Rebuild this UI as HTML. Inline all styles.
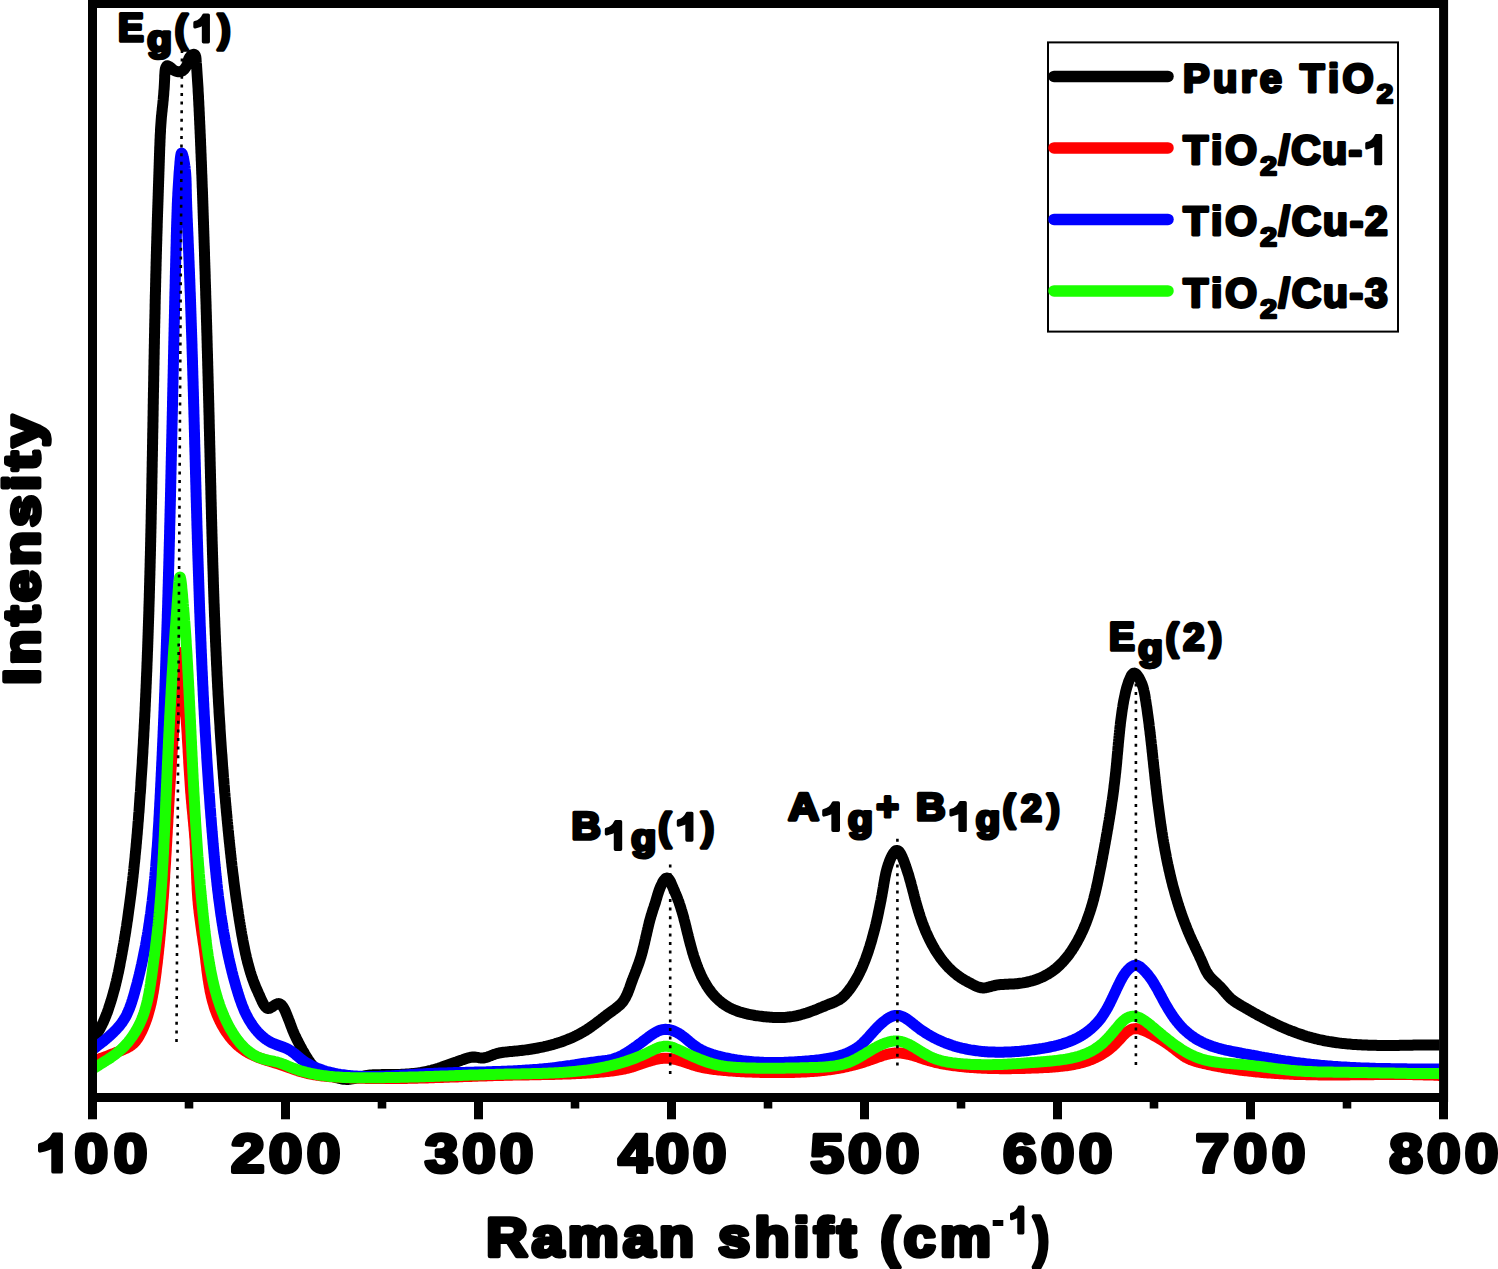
<!DOCTYPE html><html><head><meta charset="utf-8"><style>html,body{margin:0;padding:0;background:#fff;overflow:hidden}svg{display:block}text{font-family:"Liberation Sans",sans-serif;font-weight:bold;fill:#000;stroke:#000;stroke-linejoin:round;font-kerning:none;text-rendering:geometricPrecision}</style></head><body>
<svg width="1498" height="1269" viewBox="0 0 1498 1269">
<rect width="1498" height="1269" fill="#fff"/>
<defs><clipPath id="pa"><rect x="97" y="8" width="1342.5" height="1085.3"/></clipPath></defs>
<g clip-path="url(#pa)" fill="none" stroke-width="11" stroke-linejoin="round" stroke-linecap="round">
<path d="M86.0,1047.0 L87.1,1045.9 L88.2,1044.9 L89.2,1043.8 L90.3,1042.6 L91.3,1041.5 L92.2,1040.3 L93.2,1039.2 L94.1,1038.0 L95.0,1036.7 L95.8,1035.5 L96.6,1034.3 L97.4,1033.0 L98.2,1031.7 L99.0,1030.5 L99.7,1029.2 L100.4,1027.8 L101.1,1026.5 L101.8,1025.2 L102.4,1023.8 L103.1,1022.5 L103.7,1021.1 L104.3,1019.7 L104.9,1018.4 L105.4,1017.0 L106.0,1015.6 L106.5,1014.2 L107.1,1012.8 L107.6,1011.4 L108.1,1009.9 L108.6,1008.5 L109.0,1007.1 L109.5,1005.7 L110.0,1004.2 L110.4,1002.8 L110.9,1001.4 L111.3,1000.0 L111.8,998.5 L112.2,997.1 L112.6,995.6 L113.0,994.2 L113.4,992.7 L113.8,991.3 L114.2,989.8 L114.6,988.4 L115.0,986.9 L115.3,985.5 L115.7,984.0 L116.0,982.6 L116.4,981.1 L116.7,979.6 L117.1,978.2 L117.4,976.7 L117.7,975.3 L118.0,973.8 L118.4,972.3 L118.7,970.8 L119.0,969.4 L119.3,967.9 L119.6,966.4 L119.9,965.0 L120.1,963.5 L120.4,962.0 L120.7,960.5 L121.0,959.1 L121.3,957.6 L121.5,956.1 L121.8,954.6 L122.1,953.1 L122.3,951.7 L122.6,950.2 L122.9,948.7 L123.1,947.2 L123.4,945.7 L123.6,944.3 L123.9,942.8 L124.1,941.3 L124.4,939.8 L124.6,938.3 L124.8,936.9 L125.1,935.4 L125.3,933.9 L125.6,932.4 L125.8,930.9 L126.0,929.4 L126.2,928.0 L126.5,926.5 L126.7,925.0 L126.9,923.5 L127.1,922.0 L127.4,920.5 L127.6,919.1 L127.8,917.6 L128.0,916.1 L128.2,914.6 L128.4,913.1 L128.6,911.6 L128.8,910.1 L129.0,908.7 L129.2,907.2 L129.4,905.7 L129.6,904.2 L129.8,902.7 L130.0,901.2 L130.2,899.7 L130.4,898.2 L130.6,896.8 L130.8,895.3 L131.0,893.8 L131.2,892.3 L131.3,890.8 L131.5,889.3 L131.7,887.8 L131.9,886.3 L132.1,884.8 L132.2,883.4 L132.4,881.9 L132.6,880.4 L132.7,878.9 L132.9,877.4 L133.1,875.9 L133.2,874.4 L133.4,872.9 L133.6,871.4 L133.7,869.9 L133.9,868.4 L134.0,867.0 L134.2,865.5 L134.3,864.0 L134.5,862.5 L134.7,861.0 L134.8,859.5 L135.0,858.0 L135.1,856.5 L135.2,855.0 L135.4,853.5 L135.5,852.0 L135.7,850.5 L135.8,849.0 L136.0,847.6 L136.1,846.1 L136.2,844.6 L136.4,843.1 L136.5,841.6 L136.6,840.1 L136.8,838.6 L136.9,837.1 L137.0,835.6 L137.2,834.1 L137.3,832.6 L137.4,831.1 L137.5,829.6 L137.7,828.1 L137.8,826.6 L137.9,825.1 L138.0,823.6 L138.1,822.1 L138.3,820.7 L138.4,819.2 L138.5,817.7 L138.6,816.2 L138.7,814.7 L138.8,813.2 L139.0,811.7 L139.1,810.2 L139.2,808.7 L139.3,807.2 L139.4,805.7 L139.5,804.2 L139.6,802.7 L139.7,801.2 L139.8,799.7 L139.9,798.2 L140.0,796.7 L140.1,795.2 L140.2,793.7 L140.4,792.2 L140.5,790.7 L140.6,789.2 L140.7,787.7 L140.8,786.2 L140.9,784.7 L140.9,783.2 L141.0,781.7 L141.1,780.2 L141.2,778.7 L141.3,777.2 L141.4,775.7 L141.5,774.2 L141.6,772.8 L141.7,771.3 L141.8,769.8 L141.9,768.3 L142.0,766.8 L142.1,765.3 L142.2,763.8 L142.3,762.3 L142.3,760.8 L142.4,759.3 L142.5,757.8 L142.6,756.3 L142.7,754.8 L142.8,753.3 L142.9,751.8 L142.9,750.3 L143.0,748.8 L143.1,747.3 L143.2,745.8 L143.3,744.3 L143.4,742.8 L143.4,741.3 L143.5,739.8 L143.6,738.3 L143.7,736.8 L143.8,735.3 L143.8,733.8 L143.9,732.3 L144.0,730.8 L144.1,729.3 L144.2,727.8 L144.2,726.3 L144.3,724.8 L144.4,723.3 L144.5,721.8 L144.5,720.3 L144.6,718.8 L144.7,717.3 L144.8,715.8 L144.8,714.3 L144.9,712.8 L145.0,711.3 L145.1,709.8 L145.1,708.3 L145.2,706.8 L145.3,705.3 L145.3,703.8 L145.4,702.3 L145.5,700.8 L145.5,699.3 L145.6,697.8 L145.7,696.3 L145.7,694.8 L145.8,693.3 L145.9,691.8 L145.9,690.3 L146.0,688.8 L146.1,687.3 L146.1,685.8 L146.2,684.3 L146.3,682.8 L146.3,681.3 L146.4,679.8 L146.4,678.3 L146.5,676.8 L146.6,675.3 L146.6,673.8 L146.7,672.3 L146.8,670.8 L146.8,669.3 L146.9,667.8 L146.9,666.3 L147.0,664.8 L147.0,663.3 L147.1,661.8 L147.2,660.3 L147.2,658.8 L147.3,657.3 L147.3,655.8 L147.4,654.3 L147.4,652.8 L147.5,651.3 L147.6,649.8 L147.6,648.3 L147.7,646.8 L147.7,645.3 L147.8,643.8 L147.8,642.3 L147.9,640.8 L147.9,639.3 L148.0,637.8 L148.0,636.3 L148.1,634.8 L148.1,633.3 L148.2,631.8 L148.2,630.3 L148.3,628.8 L148.3,627.3 L148.4,625.8 L148.4,624.3 L148.5,622.8 L148.5,621.3 L148.6,619.8 L148.6,618.3 L148.7,616.8 L148.7,615.3 L148.8,613.8 L148.8,612.3 L148.9,610.8 L148.9,609.3 L148.9,607.8 L149.0,606.3 L149.0,604.8 L149.1,603.3 L149.1,601.8 L149.2,600.3 L149.2,598.8 L149.3,597.3 L149.3,595.8 L149.3,594.2 L149.4,592.7 L149.4,591.2 L149.5,589.7 L149.5,588.2 L149.5,586.7 L149.6,585.2 L149.6,583.7 L149.7,582.2 L149.7,580.7 L149.7,579.2 L149.8,577.7 L149.8,576.2 L149.9,574.7 L149.9,573.2 L149.9,571.7 L150.0,570.2 L150.0,568.7 L150.1,567.2 L150.1,565.7 L150.1,564.2 L150.2,562.7 L150.2,561.2 L150.2,559.7 L150.3,558.2 L150.3,556.7 L150.4,555.2 L150.4,553.7 L150.4,552.2 L150.5,550.7 L150.5,549.2 L150.5,547.7 L150.6,546.2 L150.6,544.7 L150.6,543.2 L150.7,541.7 L150.7,540.2 L150.7,538.7 L150.8,537.2 L150.8,535.7 L150.8,534.2 L150.9,532.7 L150.9,531.2 L150.9,529.7 L151.0,528.2 L151.0,526.7 L151.0,525.2 L151.1,523.7 L151.1,522.2 L151.1,520.7 L151.2,519.2 L151.2,517.7 L151.2,516.2 L151.2,514.7 L151.3,513.2 L151.3,511.7 L151.3,510.2 L151.4,508.7 L151.4,507.2 L151.4,505.7 L151.5,504.2 L151.5,502.7 L151.5,501.2 L151.5,499.7 L151.6,498.1 L151.6,496.6 L151.6,495.1 L151.7,493.6 L151.7,492.1 L151.7,490.6 L151.8,489.1 L151.8,487.6 L151.8,486.1 L151.8,484.6 L151.9,483.1 L151.9,481.6 L151.9,480.1 L151.9,478.6 L152.0,477.1 L152.0,475.6 L152.0,474.1 L152.1,472.6 L152.1,471.1 L152.1,469.6 L152.1,468.1 L152.2,466.6 L152.2,465.1 L152.2,463.6 L152.2,462.1 L152.3,460.6 L152.3,459.1 L152.3,457.6 L152.4,456.1 L152.4,454.6 L152.4,453.1 L152.4,451.6 L152.5,450.1 L152.5,448.6 L152.5,447.1 L152.5,445.6 L152.6,444.1 L152.6,442.6 L152.6,441.1 L152.6,439.6 L152.7,438.1 L152.7,436.6 L152.7,435.1 L152.7,433.6 L152.8,432.1 L152.8,430.6 L152.8,429.1 L152.9,427.6 L152.9,426.1 L152.9,424.6 L152.9,423.1 L153.0,421.6 L153.0,420.1 L153.0,418.6 L153.0,417.1 L153.1,415.6 L153.1,414.1 L153.1,412.6 L153.1,411.1 L153.2,409.6 L153.2,408.1 L153.2,406.6 L153.2,405.1 L153.3,403.6 L153.3,402.1 L153.3,400.6 L153.3,399.1 L153.4,397.6 L153.4,396.1 L153.4,394.6 L153.4,393.1 L153.5,391.6 L153.5,390.1 L153.5,388.6 L153.6,387.1 L153.6,385.6 L153.6,384.1 L153.6,382.6 L153.7,381.1 L153.7,379.6 L153.7,378.1 L153.7,376.6 L153.8,375.1 L153.8,373.6 L153.8,372.1 L153.8,370.6 L153.9,369.1 L153.9,367.6 L153.9,366.1 L154.0,364.6 L154.0,363.1 L154.0,361.6 L154.0,360.1 L154.1,358.6 L154.1,357.1 L154.1,355.6 L154.2,354.1 L154.2,352.6 L154.2,351.1 L154.2,349.6 L154.3,348.1 L154.3,346.6 L154.3,345.1 L154.4,343.6 L154.4,342.1 L154.4,340.6 L154.4,339.1 L154.5,337.6 L154.5,336.1 L154.5,334.6 L154.6,333.1 L154.6,331.6 L154.6,330.1 L154.6,328.6 L154.7,327.1 L154.7,325.6 L154.7,324.1 L154.8,322.6 L154.8,321.1 L154.8,319.6 L154.9,318.1 L154.9,316.6 L154.9,315.1 L155.0,313.6 L155.0,312.1 L155.0,310.6 L155.1,309.1 L155.1,307.6 L155.1,306.1 L155.1,304.6 L155.2,303.1 L155.2,301.6 L155.2,300.1 L155.3,298.6 L155.3,297.1 L155.3,295.6 L155.4,294.1 L155.4,292.6 L155.5,291.1 L155.5,289.6 L155.5,288.1 L155.6,286.6 L155.6,285.1 L155.6,283.6 L155.7,282.1 L155.7,280.7 L155.7,279.2 L155.8,277.7 L155.8,276.2 L155.8,274.7 L155.9,273.2 L155.9,271.7 L156.0,270.2 L156.0,268.7 L156.0,267.2 L156.1,265.7 L156.1,264.2 L156.1,262.7 L156.2,261.2 L156.2,259.7 L156.3,258.2 L156.3,256.7 L156.3,255.2 L156.4,253.7 L156.4,252.2 L156.5,250.7 L156.5,249.2 L156.5,247.7 L156.6,246.2 L156.6,244.7 L156.7,243.2 L156.7,241.7 L156.8,240.2 L156.8,238.7 L156.8,237.2 L156.9,235.7 L156.9,234.3 L157.0,232.8 L157.0,231.3 L157.1,229.8 L157.1,228.3 L157.2,226.8 L157.2,225.3 L157.2,223.8 L157.3,222.3 L157.3,220.8 L157.4,219.3 L157.4,217.8 L157.5,216.3 L157.5,214.8 L157.6,213.3 L157.6,211.8 L157.7,210.3 L157.7,208.8 L157.8,207.3 L157.8,205.8 L157.9,204.3 L157.9,202.8 L158.0,201.3 L158.0,199.8 L158.1,198.3 L158.1,196.8 L158.2,195.3 L158.2,193.7 L158.3,192.2 L158.3,190.7 L158.4,189.2 L158.4,187.7 L158.5,186.2 L158.5,184.7 L158.6,183.2 L158.6,181.6 L158.7,180.1 L158.7,178.6 L158.8,177.1 L158.8,175.6 L158.9,174.0 L158.9,172.5 L159.0,171.0 L159.0,169.5 L159.1,167.9 L159.1,166.4 L159.2,164.9 L159.2,163.3 L159.3,161.8 L159.3,160.3 L159.4,158.7 L159.4,157.2 L159.5,155.6 L159.5,154.1 L159.6,152.6 L159.6,151.0 L159.7,149.5 L159.7,147.9 L159.8,146.4 L159.9,144.9 L159.9,143.3 L160.0,141.8 L160.0,140.3 L160.1,138.8 L160.2,137.3 L160.2,135.8 L160.3,134.3 L160.4,132.8 L160.5,131.3 L160.5,129.9 L160.6,128.4 L160.7,127.0 L160.8,125.6 L160.9,124.2 L161.0,122.8 L161.1,121.4 L161.2,120.0 L161.3,118.7 L161.4,117.4 L161.5,116.0 L161.7,114.7 L161.8,113.4 L161.9,112.1 L162.1,110.8 L162.2,109.5 L162.3,108.2 L162.5,106.9 L162.6,105.6 L162.8,104.2 L162.9,102.9 L163.0,101.5 L163.2,100.0 L163.3,98.6 L163.4,97.1 L163.6,95.6 L163.7,94.1 L163.8,92.5 L163.9,90.8 L164.1,89.1 L164.2,87.4 L164.3,85.6 L164.4,83.7 L164.5,81.8 L164.6,79.8 L164.7,77.7 L164.7,75.7 L164.9,73.6 L165.0,71.7 L165.2,69.9 L165.5,68.4 L165.9,67.2 L166.5,66.3 L167.1,65.8 L167.9,65.8 L168.9,66.3 L170.0,67.1 L171.2,68.1 L172.5,69.2 L173.9,70.2 L175.4,71.1 L177.0,71.6 L178.5,71.8 L180.0,71.7 L181.3,71.3 L182.6,70.7 L183.7,69.8 L184.7,68.8 L185.5,67.6 L186.3,66.3 L186.9,64.9 L187.4,63.4 L187.8,61.9 L188.2,60.4 L188.7,58.9 L189.5,57.5 L190.5,56.1 L191.6,55.0 L192.9,54.4 L194.0,54.3 L194.9,54.7 L195.4,55.7 L195.8,56.9 L196.0,58.4 L196.1,60.0 L196.2,61.6 L196.3,63.2 L196.5,64.7 L196.6,66.3 L196.7,67.9 L196.8,69.4 L196.9,71.0 L197.0,72.5 L197.1,74.0 L197.2,75.6 L197.3,77.1 L197.4,78.6 L197.5,80.2 L197.6,81.7 L197.7,83.2 L197.8,84.7 L197.9,86.2 L198.0,87.7 L198.1,89.2 L198.1,90.7 L198.2,92.2 L198.3,93.7 L198.4,95.2 L198.5,96.7 L198.5,98.2 L198.6,99.7 L198.7,101.2 L198.8,102.7 L198.8,104.2 L198.9,105.6 L199.0,107.1 L199.1,108.6 L199.1,110.1 L199.2,111.6 L199.3,113.1 L199.3,114.5 L199.4,116.0 L199.5,117.5 L199.5,119.0 L199.6,120.5 L199.7,122.0 L199.7,123.5 L199.8,124.9 L199.9,126.4 L199.9,127.9 L200.0,129.4 L200.1,130.9 L200.1,132.4 L200.2,133.9 L200.3,135.4 L200.3,136.9 L200.4,138.3 L200.5,139.8 L200.5,141.3 L200.6,142.8 L200.6,144.3 L200.7,145.8 L200.8,147.3 L200.8,148.8 L200.9,150.3 L200.9,151.8 L201.0,153.3 L201.1,154.8 L201.1,156.3 L201.2,157.8 L201.2,159.3 L201.3,160.8 L201.4,162.3 L201.4,163.8 L201.5,165.3 L201.5,166.8 L201.6,168.3 L201.6,169.8 L201.7,171.3 L201.7,172.8 L201.8,174.3 L201.9,175.8 L201.9,177.3 L202.0,178.8 L202.0,180.3 L202.1,181.8 L202.1,183.3 L202.2,184.8 L202.2,186.3 L202.3,187.8 L202.4,189.3 L202.4,190.8 L202.5,192.3 L202.5,193.8 L202.6,195.3 L202.6,196.9 L202.7,198.4 L202.7,199.9 L202.8,201.4 L202.8,202.9 L202.9,204.4 L202.9,205.9 L203.0,207.4 L203.0,208.9 L203.1,210.4 L203.1,211.9 L203.2,213.4 L203.2,214.9 L203.3,216.4 L203.3,217.9 L203.4,219.4 L203.4,220.9 L203.5,222.4 L203.5,224.0 L203.6,225.5 L203.6,227.0 L203.7,228.5 L203.7,230.0 L203.8,231.5 L203.8,233.0 L203.9,234.5 L203.9,236.0 L204.0,237.5 L204.0,239.0 L204.1,240.5 L204.1,242.0 L204.2,243.5 L204.2,245.0 L204.3,246.5 L204.3,248.0 L204.4,249.5 L204.4,251.0 L204.5,252.5 L204.5,254.0 L204.5,255.5 L204.6,257.0 L204.6,258.5 L204.7,260.1 L204.7,261.6 L204.8,263.1 L204.8,264.6 L204.9,266.1 L204.9,267.6 L205.0,269.1 L205.0,270.6 L205.1,272.1 L205.1,273.6 L205.2,275.1 L205.2,276.6 L205.2,278.1 L205.3,279.6 L205.3,281.1 L205.4,282.6 L205.4,284.1 L205.5,285.6 L205.5,287.1 L205.6,288.6 L205.6,290.1 L205.7,291.6 L205.7,293.1 L205.7,294.6 L205.8,296.1 L205.8,297.6 L205.9,299.1 L205.9,300.6 L206.0,302.1 L206.0,303.6 L206.1,305.1 L206.1,306.6 L206.1,308.1 L206.2,309.6 L206.2,311.1 L206.3,312.6 L206.3,314.1 L206.4,315.6 L206.4,317.1 L206.4,318.6 L206.5,320.1 L206.5,321.6 L206.6,323.1 L206.6,324.6 L206.7,326.1 L206.7,327.5 L206.7,329.0 L206.8,330.5 L206.8,332.0 L206.9,333.5 L206.9,335.0 L207.0,336.5 L207.0,338.0 L207.0,339.5 L207.1,341.0 L207.1,342.5 L207.2,344.0 L207.2,345.5 L207.2,347.0 L207.3,348.5 L207.3,350.0 L207.4,351.5 L207.4,353.0 L207.5,354.5 L207.5,356.0 L207.5,357.5 L207.6,359.0 L207.6,360.5 L207.7,362.0 L207.7,363.5 L207.7,365.0 L207.8,366.5 L207.8,368.0 L207.9,369.5 L207.9,371.0 L207.9,372.5 L208.0,374.0 L208.0,375.5 L208.1,377.0 L208.1,378.5 L208.1,380.0 L208.2,381.5 L208.2,383.0 L208.3,384.5 L208.3,386.0 L208.3,387.5 L208.4,389.0 L208.4,390.5 L208.4,392.0 L208.5,393.5 L208.5,394.9 L208.6,396.4 L208.6,397.9 L208.6,399.4 L208.7,400.9 L208.7,402.4 L208.8,403.9 L208.8,405.4 L208.8,406.9 L208.9,408.4 L208.9,409.9 L208.9,411.4 L209.0,412.9 L209.0,414.4 L209.1,415.9 L209.1,417.4 L209.1,418.9 L209.2,420.4 L209.2,421.9 L209.2,423.4 L209.3,424.9 L209.3,426.4 L209.3,427.9 L209.4,429.4 L209.4,430.9 L209.5,432.4 L209.5,433.9 L209.5,435.4 L209.6,436.9 L209.6,438.4 L209.6,439.9 L209.7,441.4 L209.7,442.9 L209.7,444.4 L209.8,445.9 L209.8,447.4 L209.9,448.9 L209.9,450.4 L209.9,451.9 L210.0,453.4 L210.0,454.9 L210.0,456.4 L210.1,457.9 L210.1,459.4 L210.1,460.9 L210.2,462.4 L210.2,463.9 L210.2,465.4 L210.3,466.9 L210.3,468.4 L210.4,469.9 L210.4,471.4 L210.4,472.9 L210.5,474.4 L210.5,475.9 L210.5,477.4 L210.6,478.9 L210.6,480.4 L210.6,481.9 L210.7,483.4 L210.7,484.9 L210.8,486.4 L210.8,487.9 L210.8,489.4 L210.9,490.9 L210.9,492.4 L210.9,493.9 L211.0,495.4 L211.0,496.9 L211.0,498.4 L211.1,499.9 L211.1,501.4 L211.2,502.9 L211.2,504.4 L211.2,505.9 L211.3,507.4 L211.3,509.0 L211.4,510.5 L211.4,512.0 L211.4,513.5 L211.5,515.0 L211.5,516.5 L211.5,518.0 L211.6,519.5 L211.6,521.0 L211.7,522.5 L211.7,524.0 L211.7,525.5 L211.8,527.0 L211.8,528.5 L211.9,530.0 L211.9,531.5 L211.9,533.0 L212.0,534.5 L212.0,536.0 L212.1,537.5 L212.1,539.0 L212.1,540.5 L212.2,542.0 L212.2,543.5 L212.3,545.0 L212.3,546.5 L212.4,548.0 L212.4,549.5 L212.4,551.0 L212.5,552.5 L212.5,554.0 L212.6,555.5 L212.6,557.0 L212.7,558.5 L212.7,560.0 L212.7,561.5 L212.8,563.0 L212.8,564.5 L212.9,566.0 L212.9,567.5 L213.0,569.0 L213.0,570.5 L213.1,572.0 L213.1,573.5 L213.2,575.0 L213.2,576.5 L213.3,578.0 L213.3,579.5 L213.3,581.0 L213.4,582.5 L213.4,584.1 L213.5,585.6 L213.5,587.1 L213.6,588.6 L213.6,590.1 L213.7,591.6 L213.7,593.1 L213.8,594.6 L213.8,596.1 L213.9,597.6 L213.9,599.1 L214.0,600.6 L214.0,602.1 L214.1,603.6 L214.2,605.1 L214.2,606.6 L214.3,608.1 L214.3,609.6 L214.4,611.1 L214.4,612.6 L214.5,614.1 L214.5,615.6 L214.6,617.1 L214.7,618.6 L214.7,620.1 L214.8,621.6 L214.8,623.1 L214.9,624.6 L214.9,626.1 L215.0,627.6 L215.1,629.1 L215.1,630.6 L215.2,632.1 L215.2,633.6 L215.3,635.1 L215.4,636.6 L215.4,638.1 L215.5,639.6 L215.5,641.1 L215.6,642.6 L215.7,644.1 L215.7,645.6 L215.8,647.1 L215.9,648.6 L215.9,650.1 L216.0,651.6 L216.1,653.1 L216.1,654.6 L216.2,656.1 L216.3,657.6 L216.3,659.1 L216.4,660.6 L216.5,662.1 L216.5,663.6 L216.6,665.1 L216.7,666.6 L216.8,668.1 L216.8,669.6 L216.9,671.1 L217.0,672.6 L217.0,674.1 L217.1,675.6 L217.2,677.1 L217.3,678.6 L217.3,680.1 L217.4,681.6 L217.5,683.1 L217.6,684.6 L217.6,686.1 L217.7,687.6 L217.8,689.1 L217.9,690.6 L218.0,692.1 L218.0,693.6 L218.1,695.1 L218.2,696.6 L218.3,698.1 L218.4,699.6 L218.4,701.1 L218.5,702.6 L218.6,704.1 L218.7,705.6 L218.8,707.1 L218.9,708.6 L219.0,710.1 L219.0,711.6 L219.1,713.1 L219.2,714.6 L219.3,716.1 L219.4,717.6 L219.5,719.1 L219.6,720.6 L219.7,722.1 L219.8,723.6 L219.9,725.1 L220.0,726.6 L220.0,728.1 L220.1,729.6 L220.2,731.1 L220.3,732.6 L220.4,734.1 L220.5,735.6 L220.6,737.1 L220.7,738.6 L220.8,740.1 L220.9,741.6 L221.0,743.0 L221.1,744.5 L221.2,746.0 L221.3,747.5 L221.4,749.0 L221.5,750.5 L221.6,752.0 L221.7,753.5 L221.9,755.0 L222.0,756.5 L222.1,758.0 L222.2,759.5 L222.3,761.0 L222.4,762.5 L222.5,764.0 L222.6,765.5 L222.7,767.0 L222.8,768.5 L223.0,770.0 L223.1,771.5 L223.2,773.0 L223.3,774.5 L223.4,775.9 L223.5,777.4 L223.7,778.9 L223.8,780.4 L223.9,781.9 L224.0,783.4 L224.1,784.9 L224.3,786.4 L224.4,787.9 L224.5,789.4 L224.6,790.9 L224.7,792.4 L224.9,793.9 L225.0,795.4 L225.1,796.9 L225.3,798.4 L225.4,799.8 L225.5,801.3 L225.6,802.8 L225.8,804.3 L225.9,805.8 L226.0,807.3 L226.2,808.8 L226.3,810.3 L226.4,811.8 L226.6,813.3 L226.7,814.8 L226.9,816.3 L227.0,817.7 L227.1,819.2 L227.3,820.7 L227.4,822.2 L227.6,823.7 L227.7,825.2 L227.9,826.7 L228.0,828.2 L228.1,829.7 L228.3,831.2 L228.4,832.6 L228.6,834.1 L228.7,835.6 L228.9,837.1 L229.0,838.6 L229.2,840.1 L229.3,841.6 L229.5,843.1 L229.7,844.6 L229.8,846.1 L230.0,847.5 L230.1,849.0 L230.3,850.5 L230.4,852.0 L230.6,853.5 L230.8,855.0 L230.9,856.5 L231.1,858.0 L231.3,859.4 L231.4,860.9 L231.6,862.4 L231.8,863.9 L231.9,865.4 L232.1,866.9 L232.3,868.4 L232.5,869.9 L232.6,871.4 L232.8,872.8 L233.0,874.3 L233.2,875.8 L233.4,877.3 L233.6,878.8 L233.7,880.3 L233.9,881.8 L234.1,883.3 L234.3,884.8 L234.5,886.2 L234.7,887.7 L234.9,889.2 L235.1,890.7 L235.3,892.2 L235.5,893.7 L235.7,895.2 L235.9,896.7 L236.1,898.2 L236.3,899.7 L236.5,901.2 L236.8,902.6 L237.0,904.1 L237.2,905.6 L237.4,907.1 L237.6,908.6 L237.9,910.1 L238.1,911.6 L238.3,913.1 L238.5,914.6 L238.8,916.1 L239.0,917.6 L239.2,919.1 L239.5,920.6 L239.7,922.1 L240.0,923.6 L240.2,925.1 L240.5,926.6 L240.7,928.1 L241.0,929.6 L241.2,931.1 L241.5,932.6 L241.7,934.1 L242.0,935.6 L242.3,937.1 L242.6,938.6 L242.8,940.1 L243.1,941.6 L243.4,943.1 L243.7,944.6 L244.0,946.1 L244.3,947.5 L244.6,949.0 L244.9,950.5 L245.2,952.0 L245.5,953.5 L245.9,954.9 L246.2,956.4 L246.5,957.9 L246.9,959.3 L247.3,960.8 L247.6,962.3 L248.0,963.7 L248.4,965.1 L248.8,966.6 L249.2,968.0 L249.6,969.4 L250.0,970.9 L250.4,972.3 L250.9,973.7 L251.3,975.1 L251.8,976.5 L252.2,977.8 L252.7,979.2 L253.2,980.6 L253.7,981.9 L254.2,983.3 L254.7,984.6 L255.3,985.9 L255.8,987.3 L256.4,988.6 L257.0,989.9 L257.6,991.2 L258.2,992.6 L258.8,994.0 L259.5,995.4 L260.1,996.9 L260.8,998.5 L261.6,1000.1 L262.3,1001.8 L263.1,1003.4 L264.0,1004.9 L264.9,1006.2 L265.9,1007.3 L266.9,1008.1 L268.0,1008.4 L269.3,1008.3 L270.5,1007.8 L271.9,1007.0 L273.3,1006.1 L274.6,1005.2 L276.0,1004.3 L277.3,1003.8 L278.6,1003.6 L279.8,1003.9 L280.9,1004.5 L281.9,1005.5 L282.9,1006.7 L283.8,1008.1 L284.6,1009.7 L285.4,1011.4 L286.1,1013.1 L286.8,1014.8 L287.4,1016.4 L288.0,1017.9 L288.6,1019.4 L289.2,1020.8 L289.7,1022.2 L290.2,1023.6 L290.7,1025.0 L291.2,1026.3 L291.7,1027.6 L292.2,1028.9 L292.7,1030.2 L293.3,1031.5 L293.8,1032.8 L294.4,1034.2 L295.0,1035.5 L295.6,1036.8 L296.3,1038.2 L296.9,1039.5 L297.6,1040.9 L298.3,1042.2 L299.0,1043.6 L299.7,1044.9 L300.4,1046.3 L301.1,1047.6 L301.9,1049.0 L302.6,1050.3 L303.4,1051.6 L304.2,1052.9 L304.9,1054.3 L305.7,1055.6 L306.5,1056.9 L307.3,1058.2 L308.1,1059.5 L309.0,1060.7 L309.8,1062.0 L310.7,1063.2 L311.6,1064.3 L312.5,1065.5 L313.5,1066.5 L314.6,1067.6 L315.7,1068.5 L316.9,1069.4 L318.1,1070.3 L319.3,1071.0 L320.6,1071.8 L321.9,1072.5 L323.3,1073.2 L324.7,1073.8 L326.1,1074.3 L327.5,1074.9 L329.0,1075.4 L330.4,1075.9 L331.9,1076.4 L333.4,1076.8 L334.9,1077.2 L336.3,1077.6 L337.8,1078.0 L339.3,1078.4 L340.7,1078.7 L342.2,1079.0 L343.6,1079.2 L345.1,1079.3 L346.6,1079.4 L348.0,1079.4 L349.5,1079.3 L351.0,1079.1 L352.4,1078.9 L353.9,1078.6 L355.4,1078.3 L356.9,1077.9 L358.3,1077.5 L359.8,1077.1 L361.3,1076.7 L362.8,1076.3 L364.3,1076.0 L365.7,1075.7 L367.2,1075.4 L368.7,1075.2 L370.2,1075.0 L371.7,1074.9 L373.1,1074.8 L374.6,1074.7 L376.1,1074.7 L377.6,1074.7 L379.1,1074.7 L380.6,1074.7 L382.1,1074.6 L383.6,1074.6 L385.1,1074.6 L386.6,1074.6 L388.1,1074.6 L389.6,1074.6 L391.1,1074.6 L392.6,1074.6 L394.1,1074.5 L395.6,1074.5 L397.1,1074.5 L398.7,1074.4 L400.2,1074.4 L401.7,1074.3 L403.2,1074.2 L404.7,1074.2 L406.2,1074.1 L407.7,1074.0 L409.2,1073.9 L410.7,1073.7 L412.2,1073.6 L413.7,1073.4 L415.2,1073.3 L416.7,1073.1 L418.2,1072.9 L419.7,1072.7 L421.2,1072.5 L422.7,1072.2 L424.1,1071.9 L425.6,1071.6 L427.0,1071.3 L428.5,1071.0 L429.9,1070.6 L431.4,1070.3 L432.8,1069.9 L434.3,1069.5 L435.7,1069.1 L437.1,1068.6 L438.6,1068.2 L440.0,1067.7 L441.4,1067.3 L442.8,1066.8 L444.2,1066.3 L445.6,1065.8 L447.1,1065.3 L448.5,1064.8 L449.9,1064.3 L451.3,1063.8 L452.7,1063.3 L454.1,1062.8 L455.6,1062.3 L457.0,1061.7 L458.4,1061.2 L459.8,1060.7 L461.2,1060.2 L462.7,1059.8 L464.1,1059.3 L465.5,1058.8 L467.0,1058.3 L468.4,1057.9 L469.9,1057.5 L471.4,1057.2 L472.8,1057.0 L474.3,1057.0 L475.8,1057.2 L477.3,1057.4 L478.8,1057.7 L480.3,1057.9 L481.8,1058.0 L483.3,1058.0 L484.7,1057.8 L486.2,1057.4 L487.6,1057.0 L489.0,1056.4 L490.5,1055.9 L491.9,1055.3 L493.3,1054.7 L494.7,1054.2 L496.2,1053.8 L497.6,1053.4 L499.1,1053.0 L500.6,1052.7 L502.0,1052.5 L503.5,1052.3 L505.0,1052.1 L506.5,1051.9 L508.0,1051.8 L509.4,1051.6 L510.9,1051.5 L512.4,1051.4 L513.9,1051.2 L515.4,1051.1 L516.9,1050.9 L518.4,1050.8 L519.9,1050.6 L521.4,1050.5 L522.9,1050.3 L524.4,1050.1 L525.9,1049.9 L527.4,1049.7 L528.9,1049.5 L530.4,1049.3 L531.9,1049.0 L533.3,1048.8 L534.8,1048.5 L536.3,1048.3 L537.8,1048.0 L539.3,1047.7 L540.7,1047.4 L542.2,1047.1 L543.7,1046.8 L545.2,1046.4 L546.6,1046.1 L548.1,1045.7 L549.5,1045.4 L551.0,1045.0 L552.4,1044.6 L553.9,1044.2 L555.3,1043.8 L556.7,1043.3 L558.2,1042.9 L559.6,1042.4 L561.0,1042.0 L562.4,1041.5 L563.8,1041.0 L565.2,1040.4 L566.6,1039.9 L568.0,1039.3 L569.4,1038.8 L570.7,1038.2 L572.1,1037.6 L573.5,1037.0 L574.8,1036.3 L576.1,1035.7 L577.5,1035.0 L578.8,1034.3 L580.1,1033.6 L581.4,1032.9 L582.7,1032.2 L584.0,1031.4 L585.3,1030.7 L586.6,1029.9 L587.8,1029.0 L589.1,1028.2 L590.3,1027.4 L591.5,1026.5 L592.8,1025.6 L594.0,1024.7 L595.2,1023.8 L596.4,1022.9 L597.6,1022.0 L598.8,1021.1 L600.0,1020.2 L601.2,1019.3 L602.4,1018.3 L603.6,1017.4 L604.8,1016.5 L606.0,1015.6 L607.2,1014.6 L608.4,1013.7 L609.7,1012.8 L610.9,1011.9 L612.1,1011.1 L613.3,1010.2 L614.5,1009.3 L615.7,1008.4 L616.9,1007.5 L618.0,1006.6 L619.2,1005.6 L620.2,1004.7 L621.2,1003.6 L622.2,1002.5 L623.1,1001.4 L623.9,1000.2 L624.7,998.9 L625.5,997.6 L626.1,996.3 L626.8,994.9 L627.4,993.6 L628.0,992.1 L628.6,990.7 L629.1,989.2 L629.7,987.8 L630.2,986.3 L630.7,984.8 L631.2,983.4 L631.7,981.9 L632.3,980.4 L632.8,979.0 L633.3,977.6 L633.9,976.2 L634.4,974.8 L635.0,973.4 L635.5,972.0 L636.1,970.6 L636.6,969.2 L637.1,967.8 L637.6,966.4 L638.2,965.0 L638.7,963.6 L639.2,962.2 L639.6,960.8 L640.1,959.4 L640.5,958.0 L641.0,956.6 L641.4,955.1 L641.8,953.7 L642.2,952.3 L642.6,950.8 L642.9,949.4 L643.3,947.9 L643.7,946.5 L644.0,945.0 L644.4,943.6 L644.7,942.1 L645.0,940.6 L645.4,939.2 L645.7,937.7 L646.0,936.2 L646.4,934.8 L646.7,933.3 L647.0,931.8 L647.4,930.4 L647.7,928.9 L648.1,927.4 L648.4,925.9 L648.8,924.5 L649.1,923.0 L649.5,921.5 L649.9,920.1 L650.3,918.6 L650.7,917.2 L651.1,915.7 L651.6,914.3 L652.0,912.8 L652.5,911.4 L652.9,909.9 L653.4,908.5 L653.9,907.1 L654.3,905.7 L654.8,904.3 L655.3,902.9 L655.7,901.5 L656.1,900.1 L656.5,898.7 L656.9,897.4 L657.3,896.0 L657.7,894.6 L658.2,893.2 L658.6,891.8 L659.1,890.4 L659.7,888.9 L660.3,887.3 L661.0,885.7 L661.8,884.1 L662.6,882.4 L663.5,880.9 L664.5,879.6 L665.4,878.6 L666.3,878.1 L667.2,878.0 L668.1,878.4 L668.9,879.2 L669.7,880.4 L670.5,881.8 L671.2,883.4 L671.9,885.1 L672.6,886.7 L673.3,888.3 L674.0,889.8 L674.6,891.3 L675.2,892.8 L675.8,894.2 L676.4,895.6 L677.0,897.0 L677.5,898.4 L678.0,899.8 L678.6,901.2 L679.1,902.6 L679.5,904.0 L680.0,905.4 L680.5,906.8 L680.9,908.2 L681.3,909.6 L681.8,911.0 L682.2,912.4 L682.6,913.8 L683.0,915.2 L683.4,916.6 L683.8,918.1 L684.1,919.5 L684.5,920.9 L684.9,922.3 L685.2,923.7 L685.6,925.2 L685.9,926.6 L686.3,928.0 L686.6,929.5 L687.0,930.9 L687.3,932.3 L687.7,933.8 L688.1,935.2 L688.4,936.7 L688.8,938.1 L689.1,939.6 L689.5,941.0 L689.9,942.5 L690.3,944.0 L690.7,945.4 L691.1,946.9 L691.5,948.4 L691.9,949.8 L692.3,951.3 L692.7,952.8 L693.2,954.2 L693.6,955.7 L694.1,957.2 L694.6,958.6 L695.1,960.1 L695.6,961.6 L696.1,963.0 L696.6,964.5 L697.2,965.9 L697.7,967.3 L698.3,968.8 L698.9,970.2 L699.5,971.6 L700.1,973.0 L700.7,974.4 L701.3,975.8 L702.0,977.1 L702.7,978.5 L703.4,979.8 L704.1,981.1 L704.8,982.4 L705.6,983.7 L706.3,985.0 L707.1,986.3 L707.9,987.5 L708.7,988.7 L709.6,989.9 L710.5,991.1 L711.3,992.2 L712.3,993.4 L713.2,994.5 L714.1,995.6 L715.1,996.7 L716.1,997.7 L717.2,998.7 L718.2,999.7 L719.3,1000.7 L720.4,1001.6 L721.5,1002.5 L722.6,1003.4 L723.8,1004.2 L725.0,1005.1 L726.2,1005.8 L727.5,1006.6 L728.8,1007.3 L730.1,1008.0 L731.4,1008.7 L732.8,1009.3 L734.2,1009.9 L735.6,1010.4 L737.0,1011.0 L738.4,1011.5 L739.9,1012.0 L741.4,1012.4 L742.9,1012.8 L744.3,1013.2 L745.9,1013.6 L747.4,1014.0 L748.9,1014.3 L750.4,1014.6 L752.0,1014.9 L753.5,1015.2 L755.0,1015.5 L756.6,1015.7 L758.1,1015.9 L759.6,1016.1 L761.2,1016.3 L762.7,1016.5 L764.2,1016.7 L765.7,1016.8 L767.2,1017.0 L768.7,1017.1 L770.1,1017.2 L771.6,1017.3 L773.1,1017.4 L774.5,1017.5 L776.0,1017.5 L777.4,1017.5 L778.9,1017.6 L780.3,1017.5 L781.8,1017.5 L783.2,1017.5 L784.6,1017.4 L786.1,1017.3 L787.5,1017.1 L789.0,1017.0 L790.4,1016.8 L791.9,1016.6 L793.3,1016.4 L794.8,1016.1 L796.3,1015.8 L797.8,1015.5 L799.3,1015.1 L800.8,1014.7 L802.3,1014.3 L803.7,1013.9 L805.2,1013.4 L806.7,1013.0 L808.2,1012.5 L809.6,1012.0 L811.1,1011.4 L812.5,1010.9 L814.0,1010.4 L815.4,1009.8 L816.7,1009.3 L818.1,1008.7 L819.4,1008.2 L820.7,1007.6 L822.1,1007.1 L823.4,1006.5 L824.7,1006.0 L826.0,1005.4 L827.4,1004.9 L828.8,1004.3 L830.2,1003.8 L831.7,1003.2 L833.1,1002.7 L834.6,1002.1 L836.0,1001.4 L837.4,1000.7 L838.7,1000.0 L840.0,999.2 L841.2,998.3 L842.4,997.4 L843.5,996.4 L844.6,995.3 L845.6,994.3 L846.6,993.1 L847.6,992.0 L848.5,990.8 L849.4,989.6 L850.3,988.4 L851.2,987.2 L852.0,986.0 L852.8,984.8 L853.6,983.5 L854.4,982.3 L855.2,981.0 L855.9,979.7 L856.7,978.4 L857.4,977.1 L858.1,975.8 L858.8,974.5 L859.4,973.2 L860.1,971.8 L860.7,970.5 L861.4,969.1 L862.0,967.8 L862.6,966.4 L863.1,965.0 L863.7,963.6 L864.3,962.2 L864.8,960.8 L865.4,959.4 L865.9,958.0 L866.4,956.6 L866.9,955.2 L867.4,953.8 L867.9,952.4 L868.4,950.9 L868.8,949.5 L869.3,948.0 L869.8,946.6 L870.2,945.2 L870.6,943.7 L871.1,942.3 L871.5,940.8 L871.9,939.4 L872.3,937.9 L872.7,936.4 L873.1,935.0 L873.5,933.5 L873.9,932.0 L874.3,930.6 L874.7,929.1 L875.1,927.6 L875.4,926.2 L875.8,924.7 L876.1,923.2 L876.5,921.8 L876.8,920.3 L877.1,918.8 L877.5,917.3 L877.8,915.9 L878.1,914.4 L878.4,912.9 L878.7,911.5 L879.0,910.0 L879.3,908.5 L879.6,907.1 L879.9,905.6 L880.2,904.1 L880.5,902.7 L880.8,901.2 L881.1,899.8 L881.3,898.3 L881.6,896.9 L881.9,895.4 L882.1,894.0 L882.4,892.5 L882.6,891.1 L882.9,889.6 L883.1,888.2 L883.4,886.8 L883.6,885.4 L883.8,883.9 L884.1,882.5 L884.3,881.1 L884.6,879.7 L884.8,878.2 L885.1,876.8 L885.4,875.4 L885.7,873.9 L886.0,872.4 L886.4,870.9 L886.8,869.4 L887.2,867.9 L887.7,866.3 L888.2,864.7 L888.8,863.1 L889.4,861.4 L890.1,859.7 L890.8,858.0 L891.6,856.4 L892.4,854.9 L893.2,853.5 L894.1,852.3 L894.9,851.4 L895.8,850.7 L896.6,850.4 L897.4,850.4 L898.2,850.8 L899.0,851.5 L899.8,852.4 L900.5,853.6 L901.3,855.0 L902.0,856.5 L902.7,858.1 L903.3,859.7 L904.0,861.4 L904.6,863.1 L905.2,864.7 L905.7,866.3 L906.3,867.9 L906.8,869.5 L907.3,871.0 L907.8,872.6 L908.3,874.1 L908.8,875.6 L909.2,877.1 L909.6,878.6 L910.0,880.1 L910.5,881.5 L910.9,883.0 L911.2,884.4 L911.6,885.8 L912.0,887.2 L912.4,888.6 L912.7,890.0 L913.1,891.4 L913.5,892.8 L913.8,894.2 L914.2,895.6 L914.5,897.0 L914.9,898.4 L915.3,899.8 L915.6,901.1 L916.0,902.5 L916.4,903.9 L916.8,905.3 L917.2,906.7 L917.6,908.1 L918.0,909.5 L918.4,910.9 L918.9,912.3 L919.3,913.8 L919.8,915.2 L920.2,916.6 L920.7,918.0 L921.2,919.4 L921.7,920.9 L922.2,922.3 L922.7,923.7 L923.3,925.1 L923.8,926.6 L924.4,928.0 L925.0,929.4 L925.5,930.8 L926.1,932.2 L926.8,933.6 L927.4,935.0 L928.0,936.4 L928.7,937.8 L929.3,939.1 L930.0,940.5 L930.7,941.9 L931.4,943.2 L932.1,944.6 L932.9,945.9 L933.6,947.2 L934.4,948.5 L935.1,949.8 L935.9,951.1 L936.7,952.4 L937.6,953.7 L938.4,954.9 L939.3,956.2 L940.1,957.4 L941.0,958.6 L941.9,959.8 L942.8,961.0 L943.8,962.1 L944.7,963.3 L945.7,964.4 L946.7,965.5 L947.7,966.6 L948.7,967.7 L949.8,968.7 L950.8,969.7 L951.9,970.7 L953.0,971.7 L954.1,972.7 L955.2,973.6 L956.4,974.6 L957.6,975.5 L958.7,976.3 L959.9,977.2 L961.2,978.0 L962.4,978.8 L963.7,979.6 L965.0,980.3 L966.3,981.0 L967.6,981.8 L968.9,982.5 L970.3,983.2 L971.6,983.9 L973.0,984.6 L974.4,985.3 L975.8,986.0 L977.2,986.6 L978.6,987.1 L980.0,987.5 L981.5,987.8 L982.9,987.9 L984.4,987.9 L985.8,987.7 L987.3,987.4 L988.8,987.0 L990.2,986.6 L991.7,986.2 L993.2,985.8 L994.7,985.5 L996.2,985.2 L997.6,984.9 L999.1,984.7 L1000.6,984.6 L1002.0,984.5 L1003.5,984.4 L1005.0,984.3 L1006.5,984.2 L1008.0,984.2 L1009.4,984.1 L1010.9,984.1 L1012.4,984.0 L1013.9,983.9 L1015.4,983.8 L1016.9,983.7 L1018.4,983.5 L1019.9,983.3 L1021.4,983.1 L1022.9,982.9 L1024.4,982.6 L1025.9,982.3 L1027.4,982.0 L1028.9,981.7 L1030.4,981.3 L1031.9,980.9 L1033.3,980.5 L1034.8,980.0 L1036.3,979.5 L1037.7,979.0 L1039.1,978.4 L1040.5,977.9 L1041.9,977.2 L1043.3,976.6 L1044.6,975.9 L1045.9,975.2 L1047.2,974.5 L1048.5,973.7 L1049.8,972.9 L1051.0,972.1 L1052.3,971.3 L1053.4,970.4 L1054.6,969.5 L1055.8,968.6 L1056.9,967.6 L1058.0,966.6 L1059.1,965.6 L1060.2,964.6 L1061.2,963.5 L1062.3,962.5 L1063.3,961.4 L1064.3,960.3 L1065.3,959.1 L1066.2,958.0 L1067.2,956.8 L1068.1,955.7 L1069.0,954.5 L1069.9,953.2 L1070.7,952.0 L1071.6,950.8 L1072.4,949.5 L1073.2,948.3 L1074.0,947.0 L1074.8,945.7 L1075.6,944.4 L1076.3,943.1 L1077.1,941.8 L1077.8,940.5 L1078.5,939.2 L1079.2,937.9 L1079.9,936.5 L1080.6,935.2 L1081.2,933.8 L1081.8,932.5 L1082.5,931.1 L1083.1,929.8 L1083.7,928.4 L1084.3,927.0 L1084.8,925.7 L1085.4,924.3 L1086.0,922.9 L1086.5,921.5 L1087.0,920.1 L1087.5,918.7 L1088.0,917.3 L1088.5,915.9 L1089.0,914.5 L1089.5,913.0 L1090.0,911.6 L1090.4,910.2 L1090.9,908.8 L1091.3,907.3 L1091.7,905.9 L1092.2,904.4 L1092.6,903.0 L1093.0,901.6 L1093.4,900.1 L1093.8,898.7 L1094.1,897.2 L1094.5,895.7 L1094.9,894.3 L1095.2,892.8 L1095.6,891.4 L1095.9,889.9 L1096.3,888.4 L1096.6,886.9 L1096.9,885.5 L1097.3,884.0 L1097.6,882.5 L1097.9,881.1 L1098.2,879.6 L1098.5,878.1 L1098.8,876.6 L1099.1,875.1 L1099.4,873.7 L1099.7,872.2 L1100.0,870.7 L1100.3,869.2 L1100.6,867.7 L1100.9,866.3 L1101.2,864.8 L1101.4,863.3 L1101.7,861.8 L1102.0,860.3 L1102.3,858.9 L1102.6,857.4 L1102.8,855.9 L1103.1,854.4 L1103.4,852.9 L1103.7,851.5 L1103.9,850.0 L1104.2,848.5 L1104.5,847.0 L1104.7,845.6 L1105.0,844.1 L1105.3,842.6 L1105.5,841.1 L1105.8,839.7 L1106.1,838.2 L1106.3,836.7 L1106.6,835.2 L1106.8,833.8 L1107.1,832.3 L1107.3,830.8 L1107.6,829.4 L1107.9,827.9 L1108.1,826.4 L1108.3,824.9 L1108.6,823.5 L1108.8,822.0 L1109.1,820.5 L1109.3,819.0 L1109.6,817.6 L1109.8,816.1 L1110.0,814.6 L1110.3,813.1 L1110.5,811.7 L1110.7,810.2 L1111.0,808.7 L1111.2,807.2 L1111.4,805.8 L1111.6,804.3 L1111.8,802.8 L1112.0,801.3 L1112.3,799.8 L1112.5,798.4 L1112.7,796.9 L1112.9,795.4 L1113.1,793.9 L1113.3,792.4 L1113.5,790.9 L1113.7,789.5 L1113.9,788.0 L1114.0,786.5 L1114.2,785.0 L1114.4,783.5 L1114.6,782.0 L1114.8,780.5 L1114.9,779.0 L1115.1,777.5 L1115.3,776.0 L1115.4,774.5 L1115.6,773.0 L1115.8,771.5 L1115.9,770.0 L1116.1,768.5 L1116.2,767.0 L1116.4,765.5 L1116.5,764.0 L1116.7,762.5 L1116.8,761.0 L1116.9,759.5 L1117.1,758.0 L1117.2,756.5 L1117.3,755.0 L1117.5,753.5 L1117.6,751.9 L1117.8,750.4 L1117.9,748.9 L1118.0,747.4 L1118.2,745.9 L1118.3,744.4 L1118.4,742.9 L1118.6,741.4 L1118.7,739.9 L1118.9,738.4 L1119.0,736.9 L1119.2,735.4 L1119.3,733.9 L1119.5,732.4 L1119.6,730.9 L1119.8,729.4 L1119.9,727.9 L1120.1,726.4 L1120.3,724.9 L1120.4,723.4 L1120.6,722.0 L1120.8,720.5 L1121.0,719.0 L1121.2,717.5 L1121.4,716.0 L1121.6,714.6 L1121.8,713.1 L1122.0,711.6 L1122.2,710.2 L1122.4,708.7 L1122.7,707.3 L1122.9,705.8 L1123.1,704.4 L1123.4,702.9 L1123.6,701.5 L1123.9,700.0 L1124.2,698.6 L1124.5,697.2 L1124.8,695.8 L1125.1,694.3 L1125.4,692.9 L1125.7,691.4 L1126.1,690.0 L1126.5,688.5 L1126.9,687.0 L1127.4,685.5 L1127.9,683.9 L1128.4,682.3 L1129.0,680.7 L1129.7,679.1 L1130.4,677.5 L1131.1,676.0 L1131.9,674.7 L1132.7,673.8 L1133.6,673.2 L1134.5,673.1 L1135.5,673.5 L1136.5,674.3 L1137.4,675.5 L1138.4,676.9 L1139.3,678.4 L1140.1,680.0 L1140.9,681.6 L1141.6,683.2 L1142.2,684.8 L1142.7,686.3 L1143.2,687.8 L1143.6,689.3 L1143.9,690.8 L1144.3,692.3 L1144.6,693.8 L1144.8,695.2 L1145.1,696.7 L1145.3,698.1 L1145.5,699.6 L1145.8,701.0 L1146.0,702.5 L1146.2,703.9 L1146.4,705.4 L1146.7,706.8 L1146.9,708.3 L1147.1,709.8 L1147.3,711.2 L1147.5,712.7 L1147.7,714.2 L1147.9,715.6 L1148.1,717.1 L1148.3,718.6 L1148.5,720.0 L1148.7,721.5 L1148.9,723.0 L1149.1,724.4 L1149.2,725.9 L1149.4,727.4 L1149.6,728.9 L1149.8,730.3 L1150.0,731.8 L1150.1,733.3 L1150.3,734.8 L1150.5,736.2 L1150.7,737.7 L1150.8,739.2 L1151.0,740.7 L1151.2,742.2 L1151.3,743.7 L1151.5,745.1 L1151.7,746.6 L1151.8,748.1 L1152.0,749.6 L1152.1,751.1 L1152.3,752.6 L1152.5,754.1 L1152.6,755.6 L1152.8,757.1 L1152.9,758.5 L1153.1,760.0 L1153.3,761.5 L1153.4,763.0 L1153.6,764.5 L1153.7,766.0 L1153.9,767.5 L1154.1,769.0 L1154.2,770.5 L1154.4,772.0 L1154.6,773.5 L1154.7,775.0 L1154.9,776.5 L1155.0,778.0 L1155.2,779.5 L1155.4,781.0 L1155.5,782.5 L1155.7,784.0 L1155.9,785.5 L1156.0,787.0 L1156.2,788.5 L1156.4,790.0 L1156.6,791.5 L1156.7,793.0 L1156.9,794.5 L1157.1,796.0 L1157.3,797.5 L1157.4,799.0 L1157.6,800.4 L1157.8,801.9 L1158.0,803.4 L1158.2,804.9 L1158.4,806.4 L1158.6,807.9 L1158.8,809.4 L1159.0,810.9 L1159.2,812.4 L1159.4,813.9 L1159.6,815.4 L1159.8,816.9 L1160.0,818.4 L1160.2,819.9 L1160.4,821.4 L1160.6,822.9 L1160.8,824.4 L1161.0,825.9 L1161.3,827.4 L1161.5,828.9 L1161.7,830.4 L1161.9,831.8 L1162.2,833.3 L1162.4,834.8 L1162.6,836.3 L1162.9,837.8 L1163.1,839.3 L1163.4,840.8 L1163.6,842.3 L1163.9,843.7 L1164.1,845.2 L1164.4,846.7 L1164.7,848.2 L1164.9,849.7 L1165.2,851.1 L1165.5,852.6 L1165.8,854.1 L1166.1,855.6 L1166.3,857.0 L1166.6,858.5 L1166.9,860.0 L1167.2,861.5 L1167.5,862.9 L1167.8,864.4 L1168.2,865.9 L1168.5,867.3 L1168.8,868.8 L1169.1,870.3 L1169.5,871.7 L1169.8,873.2 L1170.1,874.6 L1170.5,876.1 L1170.8,877.6 L1171.2,879.0 L1171.5,880.5 L1171.9,881.9 L1172.3,883.4 L1172.6,884.8 L1173.0,886.3 L1173.4,887.7 L1173.8,889.2 L1174.2,890.6 L1174.6,892.0 L1175.0,893.5 L1175.4,894.9 L1175.8,896.3 L1176.2,897.8 L1176.7,899.2 L1177.1,900.6 L1177.5,902.1 L1178.0,903.5 L1178.4,904.9 L1178.9,906.3 L1179.3,907.8 L1179.8,909.2 L1180.3,910.6 L1180.8,912.0 L1181.2,913.4 L1181.7,914.8 L1182.2,916.2 L1182.7,917.6 L1183.2,919.0 L1183.8,920.4 L1184.3,921.8 L1184.8,923.2 L1185.4,924.6 L1185.9,926.0 L1186.5,927.4 L1187.0,928.8 L1187.6,930.2 L1188.1,931.5 L1188.7,932.9 L1189.3,934.3 L1189.9,935.7 L1190.5,937.0 L1191.1,938.4 L1191.7,939.8 L1192.3,941.1 L1193.0,942.5 L1193.6,943.8 L1194.3,945.2 L1194.9,946.6 L1195.5,947.9 L1196.2,949.3 L1196.8,950.6 L1197.5,952.0 L1198.1,953.4 L1198.8,954.7 L1199.4,956.1 L1200.0,957.5 L1200.7,958.9 L1201.3,960.2 L1201.9,961.6 L1202.5,963.0 L1203.1,964.4 L1203.7,965.8 L1204.3,967.2 L1205.0,968.6 L1205.6,970.0 L1206.3,971.3 L1207.1,972.6 L1207.8,973.9 L1208.6,975.1 L1209.5,976.3 L1210.5,977.4 L1211.5,978.5 L1212.5,979.6 L1213.6,980.6 L1214.7,981.6 L1215.8,982.6 L1216.9,983.6 L1218.0,984.7 L1219.1,985.7 L1220.2,986.8 L1221.2,987.9 L1222.2,989.0 L1223.2,990.2 L1224.2,991.3 L1225.1,992.5 L1226.1,993.6 L1227.1,994.8 L1228.1,995.9 L1229.1,996.9 L1230.2,998.0 L1231.3,998.9 L1232.5,999.9 L1233.7,1000.8 L1234.9,1001.6 L1236.1,1002.5 L1237.4,1003.3 L1238.7,1004.1 L1240.0,1004.8 L1241.2,1005.6 L1242.5,1006.4 L1243.9,1007.1 L1245.2,1007.9 L1246.5,1008.6 L1247.8,1009.4 L1249.1,1010.1 L1250.4,1010.9 L1251.7,1011.6 L1253.0,1012.4 L1254.3,1013.1 L1255.7,1013.8 L1257.0,1014.6 L1258.3,1015.3 L1259.6,1016.0 L1261.0,1016.7 L1262.3,1017.4 L1263.6,1018.1 L1265.0,1018.8 L1266.3,1019.5 L1267.6,1020.2 L1269.0,1020.9 L1270.3,1021.5 L1271.7,1022.2 L1273.0,1022.9 L1274.4,1023.5 L1275.7,1024.2 L1277.1,1024.8 L1278.4,1025.4 L1279.8,1026.1 L1281.2,1026.7 L1282.5,1027.3 L1283.9,1027.9 L1285.3,1028.5 L1286.6,1029.1 L1288.0,1029.6 L1289.4,1030.2 L1290.8,1030.7 L1292.2,1031.3 L1293.6,1031.8 L1295.0,1032.3 L1296.4,1032.9 L1297.8,1033.4 L1299.2,1033.9 L1300.6,1034.3 L1302.0,1034.8 L1303.4,1035.3 L1304.8,1035.7 L1306.2,1036.2 L1307.6,1036.6 L1309.1,1037.0 L1310.5,1037.4 L1311.9,1037.8 L1313.4,1038.2 L1314.8,1038.5 L1316.2,1038.9 L1317.7,1039.2 L1319.1,1039.6 L1320.6,1039.9 L1322.1,1040.2 L1323.5,1040.5 L1325.0,1040.8 L1326.4,1041.1 L1327.9,1041.3 L1329.4,1041.6 L1330.8,1041.8 L1332.3,1042.0 L1333.8,1042.3 L1335.3,1042.5 L1336.8,1042.7 L1338.2,1042.9 L1339.7,1043.1 L1341.2,1043.3 L1342.7,1043.4 L1344.2,1043.6 L1345.7,1043.7 L1347.2,1043.9 L1348.7,1044.0 L1350.2,1044.1 L1351.7,1044.3 L1353.2,1044.4 L1354.7,1044.5 L1356.2,1044.6 L1357.7,1044.7 L1359.2,1044.8 L1360.7,1044.8 L1362.3,1044.9 L1363.8,1045.0 L1365.3,1045.1 L1366.8,1045.1 L1368.3,1045.2 L1369.8,1045.2 L1371.3,1045.3 L1372.9,1045.3 L1374.4,1045.3 L1375.9,1045.3 L1377.4,1045.4 L1378.9,1045.4 L1380.4,1045.4 L1382.0,1045.4 L1383.5,1045.4 L1385.0,1045.4 L1386.5,1045.4 L1388.0,1045.4 L1389.6,1045.4 L1391.1,1045.4 L1392.6,1045.4 L1394.1,1045.4 L1395.6,1045.4 L1397.1,1045.4 L1398.6,1045.4 L1400.2,1045.3 L1401.7,1045.3 L1403.2,1045.3 L1404.7,1045.3 L1406.2,1045.2 L1407.7,1045.2 L1409.2,1045.2 L1410.7,1045.2 L1412.2,1045.2 L1413.7,1045.1 L1415.2,1045.1 L1416.7,1045.1 L1418.2,1045.1 L1419.7,1045.0 L1421.2,1045.0 L1422.7,1045.0 L1424.2,1045.0 L1425.7,1045.0 L1427.2,1045.0 L1428.7,1045.0 L1430.2,1045.0 L1431.7,1044.9 L1433.1,1044.9 L1434.6,1044.9 L1436.1,1044.9 L1437.6,1045.0 L1439.0,1045.0 L1440.5,1045.0 L1442.0,1045.0 L1443.4,1045.0 L1444.9,1045.0" stroke="#000"/>
<path d="M86.0,1064.5 L87.4,1063.9 L88.8,1063.3 L90.1,1062.7 L91.5,1062.1 L92.9,1061.6 L94.3,1061.0 L95.7,1060.4 L97.0,1059.9 L98.4,1059.3 L99.8,1058.8 L101.2,1058.3 L102.6,1057.7 L104.1,1057.2 L105.5,1056.6 L106.9,1056.1 L108.3,1055.6 L109.7,1055.0 L111.1,1054.5 L112.5,1053.9 L113.9,1053.4 L115.4,1052.8 L116.8,1052.3 L118.2,1051.7 L119.6,1051.1 L121.0,1050.6 L122.4,1050.0 L123.8,1049.4 L125.2,1048.7 L126.6,1048.1 L127.9,1047.4 L129.2,1046.7 L130.5,1045.9 L131.7,1045.0 L132.8,1044.1 L133.9,1043.1 L134.9,1042.1 L135.9,1041.0 L136.8,1039.8 L137.6,1038.6 L138.4,1037.4 L139.2,1036.1 L139.9,1034.7 L140.6,1033.4 L141.3,1032.1 L142.0,1030.7 L142.6,1029.4 L143.2,1028.0 L143.8,1026.6 L144.4,1025.2 L144.9,1023.8 L145.5,1022.4 L146.0,1021.0 L146.5,1019.6 L147.0,1018.2 L147.4,1016.8 L147.9,1015.4 L148.3,1013.9 L148.7,1012.5 L149.1,1011.1 L149.5,1009.6 L149.9,1008.2 L150.3,1006.7 L150.6,1005.2 L151.0,1003.8 L151.3,1002.3 L151.6,1000.8 L151.9,999.4 L152.2,997.9 L152.5,996.4 L152.7,994.9 L153.0,993.4 L153.3,992.0 L153.5,990.5 L153.8,989.0 L154.0,987.5 L154.2,986.0 L154.4,984.5 L154.7,983.0 L154.9,981.5 L155.1,980.0 L155.3,978.5 L155.5,977.0 L155.7,975.5 L155.9,974.0 L156.1,972.5 L156.3,971.0 L156.4,969.5 L156.6,968.0 L156.8,966.5 L157.0,965.0 L157.2,963.5 L157.4,962.0 L157.5,960.6 L157.7,959.1 L157.9,957.6 L158.0,956.1 L158.2,954.6 L158.4,953.1 L158.5,951.6 L158.7,950.1 L158.8,948.6 L159.0,947.1 L159.2,945.6 L159.3,944.1 L159.5,942.6 L159.6,941.1 L159.8,939.6 L159.9,938.1 L160.0,936.6 L160.2,935.2 L160.3,933.7 L160.5,932.2 L160.6,930.7 L160.7,929.2 L160.9,927.7 L161.0,926.2 L161.1,924.7 L161.3,923.2 L161.4,921.7 L161.5,920.2 L161.6,918.7 L161.8,917.2 L161.9,915.7 L162.0,914.3 L162.1,912.8 L162.2,911.3 L162.4,909.8 L162.5,908.3 L162.6,906.8 L162.7,905.3 L162.8,903.8 L162.9,902.3 L163.0,900.8 L163.1,899.3 L163.3,897.8 L163.4,896.3 L163.5,894.8 L163.6,893.4 L163.7,891.9 L163.8,890.4 L163.9,888.9 L164.0,887.4 L164.1,885.9 L164.2,884.4 L164.3,882.9 L164.4,881.4 L164.5,879.9 L164.6,878.4 L164.7,876.9 L164.7,875.4 L164.8,873.9 L164.9,872.4 L165.0,870.9 L165.1,869.4 L165.2,867.9 L165.3,866.4 L165.4,864.9 L165.5,863.5 L165.6,862.0 L165.7,860.5 L165.7,859.0 L165.8,857.5 L165.9,856.0 L166.0,854.5 L166.1,853.0 L166.2,851.5 L166.3,850.0 L166.3,848.5 L166.4,847.0 L166.5,845.5 L166.6,844.0 L166.7,842.5 L166.8,841.0 L166.8,839.5 L166.9,838.0 L167.0,836.4 L167.1,834.9 L167.2,833.4 L167.3,831.9 L167.3,830.4 L167.4,828.9 L167.5,827.4 L167.6,825.9 L167.7,824.4 L167.8,822.9 L167.9,821.4 L167.9,819.9 L168.0,818.4 L168.1,816.9 L168.2,815.4 L168.3,813.9 L168.4,812.3 L168.5,810.8 L168.5,809.3 L168.6,807.8 L168.7,806.3 L168.8,804.8 L168.9,803.3 L169.0,801.8 L169.1,800.2 L169.2,798.7 L169.2,797.2 L169.3,795.7 L169.4,794.2 L169.5,792.7 L169.6,791.1 L169.7,789.6 L169.8,788.1 L169.9,786.6 L170.0,785.1 L170.1,783.6 L170.2,782.0 L170.3,780.5 L170.4,779.0 L170.5,777.5 L170.6,776.0 L170.7,774.5 L170.8,772.9 L170.9,771.4 L171.0,769.9 L171.1,768.4 L171.2,766.9 L171.3,765.4 L171.4,763.8 L171.5,762.3 L171.6,760.8 L171.7,759.3 L171.8,757.8 L171.9,756.3 L172.0,754.8 L172.1,753.3 L172.2,751.8 L172.3,750.3 L172.4,748.8 L172.5,747.3 L172.6,745.8 L172.7,744.3 L172.8,742.8 L172.9,741.3 L173.0,739.8 L173.2,738.3 L173.3,736.8 L173.4,735.3 L173.5,733.8 L173.6,732.3 L173.7,730.8 L173.8,729.4 L173.9,727.9 L174.0,726.4 L174.1,724.9 L174.3,723.4 L174.4,722.0 L174.5,720.5 L174.6,719.0 L174.7,717.6 L174.8,716.1 L174.9,714.6 L175.0,713.2 L175.2,711.7 L175.3,710.3 L175.4,708.8 L175.5,707.4 L175.6,705.9 L175.7,704.5 L175.8,703.1 L176.0,701.6 L176.1,700.2 L176.2,698.8 L176.3,697.3 L176.4,695.9 L176.5,694.5 L176.7,693.0 L176.8,691.6 L176.9,690.1 L177.0,688.6 L177.1,687.1 L177.2,685.6 L177.4,684.1 L177.5,682.6 L177.6,681.0 L177.7,679.4 L177.8,677.8 L178.0,676.1 L178.1,674.4 L178.2,672.7 L178.3,670.9 L178.5,669.1 L178.6,667.2 L178.7,665.4 L178.8,663.5 L178.9,661.7 L179.1,660.0 L179.2,658.4 L179.3,656.9 L179.4,655.6 L179.6,654.4 L179.7,653.5 L179.8,652.9 L179.9,652.5 L180.0,652.4 L180.2,652.7 L180.3,653.2 L180.4,654.1 L180.5,655.1 L180.6,656.4 L180.7,657.8 L180.8,659.4 L181.0,661.1 L181.1,662.8 L181.2,664.7 L181.3,666.5 L181.5,668.4 L181.6,670.2 L181.7,672.0 L181.9,673.8 L182.0,675.5 L182.2,677.1 L182.3,678.8 L182.5,680.4 L182.6,682.0 L182.8,683.5 L182.9,685.0 L183.1,686.5 L183.2,688.0 L183.4,689.5 L183.5,691.0 L183.7,692.4 L183.8,693.9 L184.0,695.3 L184.1,696.7 L184.3,698.1 L184.4,699.6 L184.6,701.0 L184.7,702.4 L184.9,703.9 L185.0,705.3 L185.1,706.7 L185.2,708.2 L185.4,709.6 L185.5,711.1 L185.6,712.5 L185.7,714.0 L185.8,715.5 L186.0,716.9 L186.1,718.4 L186.2,719.8 L186.3,721.3 L186.4,722.8 L186.5,724.3 L186.6,725.8 L186.7,727.2 L186.8,728.7 L186.9,730.2 L187.0,731.7 L187.1,733.2 L187.2,734.7 L187.3,736.2 L187.3,737.7 L187.4,739.2 L187.5,740.7 L187.6,742.2 L187.7,743.7 L187.8,745.2 L187.9,746.7 L188.0,748.2 L188.1,749.7 L188.1,751.2 L188.2,752.7 L188.3,754.2 L188.4,755.7 L188.5,757.3 L188.6,758.8 L188.7,760.3 L188.7,761.8 L188.8,763.3 L188.9,764.8 L189.0,766.4 L189.1,767.9 L189.2,769.4 L189.3,770.9 L189.4,772.4 L189.5,774.0 L189.6,775.5 L189.7,777.0 L189.8,778.5 L189.9,780.0 L190.0,781.5 L190.1,783.1 L190.2,784.6 L190.3,786.1 L190.4,787.6 L190.5,789.1 L190.6,790.6 L190.7,792.2 L190.9,793.7 L191.0,795.2 L191.1,796.7 L191.2,798.2 L191.4,799.7 L191.5,801.2 L191.6,802.7 L191.8,804.2 L191.9,805.7 L192.0,807.2 L192.2,808.7 L192.3,810.2 L192.5,811.7 L192.6,813.2 L192.8,814.7 L192.9,816.2 L193.0,817.7 L193.2,819.2 L193.3,820.7 L193.5,822.2 L193.6,823.7 L193.7,825.2 L193.9,826.7 L194.0,828.2 L194.1,829.7 L194.3,831.2 L194.4,832.7 L194.5,834.1 L194.6,835.6 L194.7,837.1 L194.9,838.6 L195.0,840.1 L195.1,841.6 L195.1,843.1 L195.2,844.6 L195.3,846.1 L195.4,847.6 L195.5,849.1 L195.6,850.6 L195.6,852.1 L195.7,853.6 L195.8,855.1 L195.8,856.6 L195.9,858.1 L195.9,859.6 L196.0,861.1 L196.1,862.6 L196.1,864.1 L196.2,865.6 L196.2,867.1 L196.3,868.6 L196.3,870.1 L196.4,871.6 L196.5,873.1 L196.5,874.6 L196.6,876.1 L196.6,877.6 L196.7,879.1 L196.8,880.6 L196.8,882.2 L196.9,883.7 L197.0,885.2 L197.1,886.7 L197.1,888.2 L197.2,889.7 L197.3,891.2 L197.4,892.7 L197.5,894.2 L197.6,895.6 L197.7,897.1 L197.8,898.6 L197.9,900.1 L198.1,901.6 L198.2,903.1 L198.3,904.6 L198.5,906.1 L198.6,907.6 L198.8,909.1 L199.0,910.6 L199.1,912.1 L199.3,913.6 L199.5,915.1 L199.7,916.6 L199.9,918.0 L200.1,919.5 L200.3,921.0 L200.5,922.5 L200.7,924.0 L200.9,925.5 L201.1,927.0 L201.3,928.5 L201.5,930.0 L201.7,931.4 L201.9,932.9 L202.1,934.4 L202.4,935.9 L202.6,937.4 L202.8,938.9 L203.0,940.4 L203.2,941.9 L203.4,943.3 L203.7,944.8 L203.9,946.3 L204.1,947.8 L204.3,949.3 L204.5,950.8 L204.7,952.3 L204.9,953.8 L205.1,955.3 L205.3,956.7 L205.5,958.2 L205.7,959.7 L205.8,961.2 L206.0,962.7 L206.2,964.2 L206.4,965.7 L206.6,967.2 L206.7,968.7 L206.9,970.2 L207.1,971.7 L207.3,973.1 L207.5,974.6 L207.7,976.1 L207.9,977.6 L208.1,979.1 L208.4,980.6 L208.6,982.1 L208.8,983.5 L209.1,985.0 L209.3,986.5 L209.6,988.0 L209.9,989.4 L210.1,990.9 L210.4,992.4 L210.8,993.9 L211.1,995.3 L211.4,996.8 L211.8,998.2 L212.1,999.7 L212.5,1001.2 L212.9,1002.6 L213.4,1004.1 L213.8,1005.5 L214.2,1006.9 L214.7,1008.4 L215.2,1009.8 L215.7,1011.2 L216.3,1012.7 L216.8,1014.1 L217.4,1015.5 L218.0,1016.9 L218.6,1018.3 L219.3,1019.7 L219.9,1021.1 L220.6,1022.4 L221.3,1023.8 L222.0,1025.1 L222.7,1026.4 L223.5,1027.7 L224.3,1029.0 L225.1,1030.3 L225.9,1031.6 L226.7,1032.8 L227.6,1034.0 L228.5,1035.2 L229.4,1036.4 L230.3,1037.6 L231.3,1038.7 L232.2,1039.9 L233.2,1041.0 L234.3,1042.0 L235.3,1043.1 L236.3,1044.1 L237.4,1045.1 L238.5,1046.1 L239.6,1047.0 L240.8,1047.9 L242.0,1048.8 L243.2,1049.7 L244.4,1050.5 L245.6,1051.3 L246.9,1052.1 L248.1,1052.8 L249.4,1053.5 L250.8,1054.2 L252.1,1054.8 L253.5,1055.4 L254.8,1056.0 L256.2,1056.6 L257.6,1057.2 L259.0,1057.7 L260.5,1058.2 L261.9,1058.7 L263.3,1059.2 L264.8,1059.7 L266.2,1060.2 L267.7,1060.7 L269.2,1061.1 L270.6,1061.6 L272.1,1062.0 L273.6,1062.5 L275.0,1063.0 L276.5,1063.4 L277.9,1063.9 L279.4,1064.4 L280.8,1064.8 L282.2,1065.3 L283.7,1065.8 L285.1,1066.3 L286.5,1066.8 L287.9,1067.3 L289.3,1067.8 L290.8,1068.3 L292.2,1068.8 L293.6,1069.3 L295.0,1069.8 L296.4,1070.3 L297.8,1070.7 L299.2,1071.2 L300.6,1071.6 L302.1,1072.0 L303.5,1072.4 L304.9,1072.8 L306.4,1073.2 L307.8,1073.5 L309.3,1073.8 L310.7,1074.1 L312.2,1074.4 L313.6,1074.7 L315.1,1074.9 L316.6,1075.2 L318.1,1075.4 L319.5,1075.6 L321.0,1075.8 L322.5,1076.0 L324.0,1076.1 L325.5,1076.3 L327.0,1076.4 L328.5,1076.6 L330.0,1076.7 L331.5,1076.8 L333.0,1076.9 L334.5,1077.0 L336.0,1077.1 L337.5,1077.2 L339.0,1077.3 L340.5,1077.4 L342.1,1077.5 L343.6,1077.5 L345.1,1077.6 L346.6,1077.7 L348.1,1077.8 L349.6,1077.8 L351.1,1077.9 L352.6,1078.0 L354.1,1078.0 L355.6,1078.1 L357.1,1078.1 L358.6,1078.2 L360.1,1078.2 L361.6,1078.2 L363.1,1078.3 L364.6,1078.3 L366.1,1078.4 L367.6,1078.4 L369.1,1078.4 L370.6,1078.4 L372.1,1078.5 L373.6,1078.5 L375.1,1078.5 L376.6,1078.5 L378.1,1078.5 L379.6,1078.5 L381.1,1078.6 L382.6,1078.6 L384.1,1078.6 L385.6,1078.6 L387.1,1078.6 L388.6,1078.6 L390.1,1078.6 L391.6,1078.5 L393.1,1078.5 L394.6,1078.5 L396.1,1078.5 L397.6,1078.5 L399.1,1078.5 L400.6,1078.5 L402.1,1078.4 L403.6,1078.4 L405.1,1078.4 L406.6,1078.4 L408.1,1078.3 L409.6,1078.3 L411.1,1078.3 L412.6,1078.3 L414.1,1078.2 L415.6,1078.2 L417.1,1078.2 L418.6,1078.1 L420.1,1078.1 L421.6,1078.0 L423.1,1078.0 L424.6,1078.0 L426.1,1077.9 L427.6,1077.9 L429.1,1077.8 L430.6,1077.8 L432.1,1077.7 L433.6,1077.7 L435.1,1077.6 L436.6,1077.6 L438.1,1077.6 L439.6,1077.5 L441.1,1077.5 L442.6,1077.4 L444.1,1077.3 L445.6,1077.3 L447.1,1077.2 L448.6,1077.2 L450.1,1077.1 L451.6,1077.1 L453.1,1077.0 L454.6,1077.0 L456.1,1076.9 L457.6,1076.9 L459.1,1076.8 L460.6,1076.8 L462.1,1076.7 L463.6,1076.6 L465.1,1076.6 L466.6,1076.5 L468.1,1076.5 L469.6,1076.4 L471.1,1076.4 L472.6,1076.3 L474.1,1076.3 L475.6,1076.2 L477.1,1076.2 L478.6,1076.1 L480.1,1076.1 L481.6,1076.0 L483.1,1076.0 L484.6,1075.9 L486.1,1075.9 L487.6,1075.8 L489.2,1075.8 L490.7,1075.7 L492.2,1075.7 L493.7,1075.6 L495.2,1075.6 L496.7,1075.5 L498.2,1075.5 L499.7,1075.5 L501.2,1075.4 L502.7,1075.4 L504.2,1075.3 L505.7,1075.3 L507.2,1075.3 L508.7,1075.2 L510.2,1075.2 L511.7,1075.2 L513.2,1075.1 L514.7,1075.1 L516.2,1075.1 L517.7,1075.0 L519.2,1075.0 L520.8,1075.0 L522.3,1075.0 L523.8,1074.9 L525.3,1074.9 L526.8,1074.9 L528.3,1074.9 L529.8,1074.8 L531.3,1074.8 L532.8,1074.8 L534.3,1074.8 L535.8,1074.7 L537.3,1074.7 L538.8,1074.7 L540.3,1074.7 L541.8,1074.6 L543.4,1074.6 L544.9,1074.6 L546.4,1074.5 L547.9,1074.5 L549.4,1074.5 L550.9,1074.4 L552.4,1074.4 L553.9,1074.4 L555.4,1074.3 L556.9,1074.3 L558.4,1074.3 L559.9,1074.2 L561.4,1074.2 L562.9,1074.1 L564.4,1074.1 L565.9,1074.0 L567.4,1074.0 L568.9,1073.9 L570.4,1073.9 L571.9,1073.8 L573.4,1073.7 L574.9,1073.7 L576.4,1073.6 L577.9,1073.6 L579.4,1073.5 L580.9,1073.4 L582.4,1073.3 L583.9,1073.2 L585.4,1073.2 L586.9,1073.1 L588.4,1073.0 L589.8,1072.9 L591.3,1072.8 L592.8,1072.7 L594.3,1072.6 L595.8,1072.5 L597.3,1072.4 L598.8,1072.3 L600.3,1072.1 L601.7,1072.0 L603.2,1071.9 L604.7,1071.8 L606.2,1071.6 L607.7,1071.5 L609.2,1071.3 L610.6,1071.1 L612.1,1071.0 L613.6,1070.8 L615.1,1070.6 L616.6,1070.4 L618.0,1070.1 L619.5,1069.9 L621.0,1069.6 L622.4,1069.3 L623.9,1069.1 L625.4,1068.7 L626.9,1068.4 L628.3,1068.0 L629.8,1067.7 L631.3,1067.3 L632.7,1066.8 L634.2,1066.4 L635.6,1065.9 L637.1,1065.4 L638.6,1064.9 L640.0,1064.4 L641.5,1063.9 L642.9,1063.4 L644.4,1062.9 L645.9,1062.4 L647.3,1061.9 L648.8,1061.4 L650.2,1061.0 L651.7,1060.5 L653.1,1060.1 L654.6,1059.7 L656.0,1059.4 L657.5,1059.1 L658.9,1058.8 L660.4,1058.6 L661.8,1058.4 L663.3,1058.3 L664.7,1058.2 L666.2,1058.2 L667.6,1058.2 L669.1,1058.4 L670.5,1058.5 L671.9,1058.8 L673.4,1059.0 L674.8,1059.3 L676.3,1059.7 L677.7,1060.0 L679.2,1060.5 L680.6,1060.9 L682.1,1061.3 L683.5,1061.8 L685.0,1062.3 L686.4,1062.8 L687.9,1063.3 L689.3,1063.8 L690.8,1064.2 L692.3,1064.7 L693.7,1065.2 L695.2,1065.6 L696.6,1066.1 L698.1,1066.5 L699.6,1066.8 L701.0,1067.2 L702.5,1067.5 L704.0,1067.8 L705.4,1068.1 L706.9,1068.4 L708.4,1068.6 L709.9,1068.8 L711.4,1069.1 L712.8,1069.3 L714.3,1069.5 L715.8,1069.6 L717.3,1069.8 L718.8,1070.0 L720.2,1070.1 L721.7,1070.2 L723.2,1070.4 L724.7,1070.5 L726.2,1070.6 L727.7,1070.8 L729.2,1070.9 L730.7,1071.0 L732.2,1071.1 L733.7,1071.2 L735.2,1071.3 L736.7,1071.4 L738.2,1071.5 L739.7,1071.6 L741.2,1071.7 L742.7,1071.7 L744.2,1071.8 L745.7,1071.9 L747.2,1071.9 L748.7,1072.0 L750.2,1072.1 L751.7,1072.1 L753.2,1072.2 L754.7,1072.2 L756.2,1072.3 L757.7,1072.3 L759.2,1072.3 L760.7,1072.4 L762.2,1072.4 L763.7,1072.4 L765.2,1072.5 L766.7,1072.5 L768.2,1072.5 L769.7,1072.5 L771.2,1072.5 L772.7,1072.5 L774.2,1072.5 L775.7,1072.6 L777.3,1072.6 L778.8,1072.6 L780.3,1072.6 L781.8,1072.5 L783.3,1072.5 L784.8,1072.5 L786.3,1072.5 L787.8,1072.5 L789.3,1072.5 L790.8,1072.4 L792.3,1072.4 L793.8,1072.4 L795.3,1072.3 L796.8,1072.3 L798.3,1072.2 L799.8,1072.2 L801.3,1072.1 L802.8,1072.1 L804.3,1072.0 L805.8,1071.9 L807.3,1071.8 L808.8,1071.7 L810.3,1071.6 L811.8,1071.5 L813.3,1071.4 L814.8,1071.3 L816.3,1071.2 L817.8,1071.0 L819.2,1070.9 L820.7,1070.8 L822.2,1070.6 L823.7,1070.4 L825.2,1070.3 L826.7,1070.1 L828.2,1069.9 L829.7,1069.7 L831.1,1069.5 L832.6,1069.3 L834.1,1069.0 L835.6,1068.8 L837.1,1068.6 L838.5,1068.3 L840.0,1068.0 L841.5,1067.8 L843.0,1067.5 L844.4,1067.2 L845.9,1066.9 L847.4,1066.5 L848.8,1066.2 L850.3,1065.9 L851.8,1065.5 L853.2,1065.1 L854.7,1064.8 L856.2,1064.4 L857.6,1064.0 L859.1,1063.5 L860.5,1063.1 L862.0,1062.7 L863.5,1062.2 L864.9,1061.7 L866.4,1061.3 L867.8,1060.8 L869.3,1060.3 L870.7,1059.7 L872.1,1059.2 L873.6,1058.7 L875.0,1058.2 L876.5,1057.7 L877.9,1057.1 L879.4,1056.7 L880.8,1056.2 L882.2,1055.7 L883.7,1055.3 L885.1,1054.9 L886.5,1054.5 L888.0,1054.1 L889.4,1053.8 L890.9,1053.6 L892.3,1053.3 L893.8,1053.2 L895.2,1053.0 L896.6,1053.0 L898.1,1053.0 L899.5,1053.0 L901.0,1053.1 L902.4,1053.3 L903.9,1053.5 L905.3,1053.7 L906.8,1054.0 L908.2,1054.3 L909.7,1054.7 L911.2,1055.0 L912.6,1055.4 L914.1,1055.9 L915.5,1056.3 L917.0,1056.8 L918.5,1057.2 L919.9,1057.7 L921.4,1058.2 L922.9,1058.7 L924.3,1059.2 L925.8,1059.7 L927.3,1060.1 L928.7,1060.6 L930.2,1061.0 L931.7,1061.4 L933.2,1061.8 L934.6,1062.2 L936.1,1062.6 L937.6,1062.9 L939.1,1063.2 L940.5,1063.5 L942.0,1063.8 L943.5,1064.1 L945.0,1064.4 L946.5,1064.6 L947.9,1064.9 L949.4,1065.1 L950.9,1065.3 L952.4,1065.5 L953.9,1065.7 L955.4,1065.9 L956.9,1066.1 L958.3,1066.3 L959.8,1066.4 L961.3,1066.6 L962.8,1066.7 L964.3,1066.9 L965.8,1067.0 L967.3,1067.2 L968.8,1067.3 L970.2,1067.4 L971.7,1067.5 L973.2,1067.6 L974.7,1067.7 L976.2,1067.8 L977.7,1067.9 L979.2,1068.0 L980.7,1068.1 L982.2,1068.2 L983.7,1068.2 L985.2,1068.3 L986.7,1068.3 L988.2,1068.4 L989.6,1068.4 L991.1,1068.5 L992.6,1068.5 L994.1,1068.6 L995.6,1068.6 L997.1,1068.6 L998.6,1068.6 L1000.1,1068.7 L1001.6,1068.7 L1003.1,1068.7 L1004.6,1068.7 L1006.1,1068.7 L1007.6,1068.7 L1009.1,1068.7 L1010.6,1068.7 L1012.1,1068.6 L1013.6,1068.6 L1015.2,1068.6 L1016.7,1068.6 L1018.2,1068.5 L1019.7,1068.5 L1021.2,1068.5 L1022.7,1068.4 L1024.2,1068.4 L1025.7,1068.3 L1027.2,1068.3 L1028.7,1068.2 L1030.2,1068.2 L1031.7,1068.1 L1033.3,1068.1 L1034.8,1068.0 L1036.3,1068.0 L1037.8,1067.9 L1039.3,1067.8 L1040.8,1067.7 L1042.3,1067.7 L1043.9,1067.6 L1045.4,1067.5 L1046.9,1067.4 L1048.4,1067.4 L1049.9,1067.3 L1051.4,1067.2 L1053.0,1067.1 L1054.5,1066.9 L1056.0,1066.8 L1057.5,1066.7 L1059.0,1066.6 L1060.5,1066.4 L1062.0,1066.2 L1063.5,1066.1 L1065.0,1065.9 L1066.5,1065.7 L1067.9,1065.5 L1069.4,1065.2 L1070.9,1065.0 L1072.4,1064.7 L1073.8,1064.5 L1075.3,1064.2 L1076.7,1063.9 L1078.2,1063.6 L1079.6,1063.2 L1081.0,1062.8 L1082.5,1062.5 L1083.9,1062.1 L1085.3,1061.6 L1086.7,1061.2 L1088.1,1060.7 L1089.5,1060.2 L1090.8,1059.7 L1092.2,1059.2 L1093.6,1058.6 L1094.9,1058.0 L1096.2,1057.4 L1097.6,1056.7 L1098.9,1056.1 L1100.2,1055.3 L1101.5,1054.6 L1102.8,1053.8 L1104.0,1053.1 L1105.3,1052.2 L1106.5,1051.4 L1107.8,1050.5 L1109.0,1049.5 L1110.2,1048.6 L1111.4,1047.6 L1112.6,1046.6 L1113.7,1045.5 L1114.9,1044.4 L1116.0,1043.3 L1117.1,1042.1 L1118.3,1040.9 L1119.4,1039.7 L1120.5,1038.5 L1121.6,1037.3 L1122.7,1036.1 L1123.8,1034.9 L1124.9,1033.9 L1126.0,1032.8 L1127.1,1031.9 L1128.3,1031.1 L1129.5,1030.3 L1130.7,1029.7 L1132.0,1029.2 L1133.2,1028.9 L1134.6,1028.7 L1135.9,1028.6 L1137.3,1028.7 L1138.7,1028.9 L1140.1,1029.2 L1141.6,1029.7 L1143.0,1030.2 L1144.5,1030.8 L1145.9,1031.4 L1147.4,1032.1 L1148.8,1032.8 L1150.3,1033.6 L1151.7,1034.3 L1153.1,1035.1 L1154.5,1035.9 L1155.9,1036.7 L1157.2,1037.4 L1158.6,1038.2 L1159.9,1039.0 L1161.2,1039.8 L1162.5,1040.6 L1163.7,1041.4 L1165.0,1042.3 L1166.3,1043.1 L1167.5,1043.9 L1168.7,1044.8 L1169.9,1045.7 L1171.2,1046.6 L1172.4,1047.5 L1173.6,1048.4 L1174.8,1049.3 L1175.9,1050.2 L1177.1,1051.2 L1178.3,1052.1 L1179.5,1053.0 L1180.8,1053.9 L1182.0,1054.8 L1183.2,1055.7 L1184.5,1056.5 L1185.7,1057.3 L1187.0,1058.0 L1188.3,1058.7 L1189.7,1059.3 L1191.0,1059.9 L1192.4,1060.4 L1193.8,1060.9 L1195.3,1061.4 L1196.7,1061.8 L1198.1,1062.2 L1199.6,1062.5 L1201.1,1062.9 L1202.5,1063.2 L1204.0,1063.6 L1205.5,1063.9 L1206.9,1064.2 L1208.4,1064.6 L1209.9,1064.9 L1211.3,1065.2 L1212.8,1065.5 L1214.3,1065.8 L1215.7,1066.1 L1217.2,1066.4 L1218.7,1066.7 L1220.1,1066.9 L1221.6,1067.2 L1223.1,1067.5 L1224.6,1067.7 L1226.0,1068.0 L1227.5,1068.2 L1229.0,1068.4 L1230.5,1068.7 L1232.0,1068.9 L1233.4,1069.1 L1234.9,1069.4 L1236.4,1069.6 L1237.9,1069.8 L1239.4,1070.0 L1240.9,1070.2 L1242.3,1070.4 L1243.8,1070.5 L1245.3,1070.7 L1246.8,1070.9 L1248.3,1071.1 L1249.8,1071.2 L1251.3,1071.4 L1252.8,1071.6 L1254.2,1071.7 L1255.7,1071.9 L1257.2,1072.0 L1258.7,1072.1 L1260.2,1072.3 L1261.7,1072.4 L1263.2,1072.5 L1264.7,1072.7 L1266.2,1072.8 L1267.7,1072.9 L1269.2,1073.0 L1270.7,1073.1 L1272.2,1073.2 L1273.7,1073.3 L1275.2,1073.4 L1276.7,1073.5 L1278.2,1073.6 L1279.7,1073.7 L1281.2,1073.8 L1282.7,1073.8 L1284.2,1073.9 L1285.7,1074.0 L1287.2,1074.1 L1288.7,1074.1 L1290.2,1074.2 L1291.7,1074.2 L1293.2,1074.3 L1294.7,1074.4 L1296.2,1074.4 L1297.7,1074.4 L1299.2,1074.5 L1300.7,1074.5 L1302.2,1074.6 L1303.7,1074.6 L1305.2,1074.6 L1306.7,1074.7 L1308.2,1074.7 L1309.7,1074.7 L1311.2,1074.8 L1312.8,1074.8 L1314.3,1074.8 L1315.8,1074.8 L1317.3,1074.8 L1318.8,1074.9 L1320.3,1074.9 L1321.8,1074.9 L1323.3,1074.9 L1324.8,1074.9 L1326.3,1074.9 L1327.8,1074.9 L1329.3,1074.9 L1330.9,1074.9 L1332.4,1074.9 L1333.9,1074.9 L1335.4,1074.9 L1336.9,1074.9 L1338.4,1074.9 L1339.9,1074.9 L1341.4,1074.9 L1342.9,1074.9 L1344.4,1074.9 L1345.9,1074.9 L1347.5,1074.9 L1349.0,1074.9 L1350.5,1074.8 L1352.0,1074.8 L1353.5,1074.8 L1355.0,1074.8 L1356.5,1074.8 L1358.0,1074.8 L1359.5,1074.8 L1361.0,1074.8 L1362.5,1074.7 L1364.1,1074.7 L1365.6,1074.7 L1367.1,1074.7 L1368.6,1074.7 L1370.1,1074.7 L1371.6,1074.7 L1373.1,1074.7 L1374.6,1074.6 L1376.1,1074.6 L1377.6,1074.6 L1379.1,1074.6 L1380.6,1074.6 L1382.1,1074.6 L1383.6,1074.6 L1385.1,1074.6 L1386.7,1074.6 L1388.2,1074.6 L1389.7,1074.6 L1391.2,1074.5 L1392.7,1074.5 L1394.2,1074.5 L1395.7,1074.5 L1397.2,1074.5 L1398.7,1074.5 L1400.2,1074.6 L1401.7,1074.6 L1403.2,1074.6 L1404.7,1074.6 L1406.2,1074.6 L1407.7,1074.6 L1409.2,1074.6 L1410.7,1074.6 L1412.2,1074.6 L1413.7,1074.7 L1415.2,1074.7 L1416.7,1074.7 L1418.2,1074.7 L1419.7,1074.8 L1421.2,1074.8 L1422.6,1074.8 L1424.1,1074.9 L1425.6,1074.9 L1427.1,1074.9 L1428.6,1075.0 L1430.1,1075.0 L1431.6,1075.1 L1433.1,1075.1 L1434.6,1075.2 L1436.1,1075.2 L1437.6,1075.3 L1439.0,1075.4 L1440.5,1075.4 L1442.0,1075.5 L1443.5,1075.6 L1445.0,1075.6" stroke="#ff0000"/>
<path d="M86.3,1054.7 L87.3,1053.8 L88.4,1052.9 L89.6,1052.0 L90.7,1051.1 L91.8,1050.2 L93.0,1049.3 L94.1,1048.4 L95.3,1047.5 L96.5,1046.6 L97.7,1045.6 L98.9,1044.7 L100.1,1043.8 L101.3,1042.8 L102.5,1041.9 L103.7,1040.9 L104.9,1039.9 L106.1,1039.0 L107.2,1038.0 L108.4,1037.0 L109.6,1035.9 L110.7,1034.9 L111.8,1033.9 L113.0,1032.8 L114.1,1031.7 L115.1,1030.7 L116.2,1029.6 L117.2,1028.4 L118.2,1027.3 L119.2,1026.2 L120.2,1025.0 L121.1,1023.8 L122.0,1022.6 L122.8,1021.4 L123.6,1020.1 L124.4,1018.9 L125.2,1017.6 L125.9,1016.3 L126.6,1015.0 L127.2,1013.6 L127.8,1012.3 L128.4,1010.9 L129.0,1009.5 L129.6,1008.1 L130.1,1006.7 L130.6,1005.3 L131.1,1003.9 L131.6,1002.5 L132.0,1001.0 L132.5,999.6 L132.9,998.2 L133.4,996.7 L133.8,995.3 L134.2,993.8 L134.6,992.4 L135.0,990.9 L135.4,989.5 L135.8,988.0 L136.2,986.6 L136.6,985.1 L137.0,983.6 L137.4,982.2 L137.7,980.7 L138.1,979.3 L138.5,977.8 L138.8,976.4 L139.2,974.9 L139.5,973.4 L139.9,972.0 L140.2,970.5 L140.6,969.1 L140.9,967.6 L141.2,966.1 L141.6,964.7 L141.9,963.2 L142.2,961.7 L142.5,960.3 L142.8,958.8 L143.1,957.3 L143.4,955.9 L143.7,954.4 L144.0,952.9 L144.3,951.5 L144.6,950.0 L144.9,948.5 L145.2,947.0 L145.5,945.6 L145.7,944.1 L146.0,942.6 L146.3,941.2 L146.5,939.7 L146.8,938.2 L147.0,936.7 L147.3,935.3 L147.5,933.8 L147.8,932.3 L148.0,930.8 L148.3,929.4 L148.5,927.9 L148.7,926.4 L148.9,924.9 L149.2,923.4 L149.4,922.0 L149.6,920.5 L149.8,919.0 L150.0,917.5 L150.2,916.0 L150.5,914.6 L150.7,913.1 L150.9,911.6 L151.1,910.1 L151.2,908.6 L151.4,907.1 L151.6,905.7 L151.8,904.2 L152.0,902.7 L152.2,901.2 L152.3,899.7 L152.5,898.2 L152.7,896.7 L152.9,895.3 L153.0,893.8 L153.2,892.3 L153.4,890.8 L153.5,889.3 L153.7,887.8 L153.8,886.3 L154.0,884.8 L154.1,883.3 L154.3,881.9 L154.4,880.4 L154.6,878.9 L154.7,877.4 L154.9,875.9 L155.0,874.4 L155.1,872.9 L155.3,871.4 L155.4,869.9 L155.5,868.4 L155.7,866.9 L155.8,865.4 L155.9,863.9 L156.0,862.5 L156.1,861.0 L156.3,859.5 L156.4,858.0 L156.5,856.5 L156.6,855.0 L156.7,853.5 L156.8,852.0 L156.9,850.5 L157.0,849.0 L157.2,847.5 L157.3,846.0 L157.4,844.5 L157.5,843.0 L157.6,841.5 L157.7,840.0 L157.8,838.5 L157.9,837.0 L158.0,835.5 L158.0,834.0 L158.1,832.5 L158.2,831.0 L158.3,829.5 L158.4,828.0 L158.5,826.5 L158.6,825.0 L158.7,823.5 L158.8,822.0 L158.9,820.5 L158.9,819.0 L159.0,817.5 L159.1,816.0 L159.2,814.5 L159.3,813.0 L159.3,811.5 L159.4,810.0 L159.5,808.5 L159.6,807.0 L159.7,805.5 L159.7,804.0 L159.8,802.5 L159.9,801.0 L160.0,799.5 L160.1,798.0 L160.1,796.5 L160.2,795.0 L160.3,793.5 L160.4,792.0 L160.4,790.5 L160.5,789.0 L160.6,787.5 L160.7,786.0 L160.7,784.5 L160.8,783.0 L160.9,781.5 L161.0,780.0 L161.0,778.5 L161.1,777.0 L161.2,775.5 L161.2,774.0 L161.3,772.5 L161.4,771.0 L161.5,769.5 L161.5,768.0 L161.6,766.5 L161.7,765.0 L161.7,763.5 L161.8,762.0 L161.9,760.5 L162.0,759.0 L162.0,757.5 L162.1,756.0 L162.2,754.5 L162.2,753.0 L162.3,751.5 L162.4,750.0 L162.4,748.5 L162.5,747.0 L162.6,745.5 L162.6,744.0 L162.7,742.5 L162.8,741.0 L162.8,739.5 L162.9,738.0 L163.0,736.5 L163.0,735.0 L163.1,733.5 L163.1,732.0 L163.2,730.5 L163.3,729.0 L163.3,727.5 L163.4,726.0 L163.5,724.5 L163.5,723.0 L163.6,721.5 L163.6,720.0 L163.7,718.5 L163.8,717.0 L163.8,715.5 L163.9,714.0 L163.9,712.5 L164.0,711.0 L164.1,709.5 L164.1,708.0 L164.2,706.5 L164.2,705.0 L164.3,703.5 L164.4,702.0 L164.4,700.5 L164.5,699.0 L164.5,697.5 L164.6,696.0 L164.6,694.5 L164.7,693.0 L164.8,691.5 L164.8,690.0 L164.9,688.5 L164.9,687.0 L165.0,685.5 L165.0,684.0 L165.1,682.5 L165.1,681.0 L165.2,679.5 L165.3,678.0 L165.3,676.5 L165.4,675.0 L165.4,673.5 L165.5,672.0 L165.5,670.5 L165.6,669.0 L165.6,667.4 L165.7,665.9 L165.7,664.4 L165.8,662.9 L165.8,661.4 L165.9,659.9 L165.9,658.4 L166.0,656.9 L166.0,655.4 L166.1,653.9 L166.1,652.4 L166.2,650.9 L166.2,649.4 L166.3,647.9 L166.3,646.4 L166.4,644.9 L166.4,643.4 L166.5,641.9 L166.5,640.4 L166.6,638.9 L166.6,637.4 L166.7,635.9 L166.7,634.4 L166.8,632.9 L166.8,631.4 L166.9,629.9 L166.9,628.4 L167.0,626.9 L167.0,625.4 L167.1,623.9 L167.1,622.4 L167.2,620.9 L167.2,619.4 L167.3,617.9 L167.3,616.4 L167.3,614.9 L167.4,613.4 L167.4,611.9 L167.5,610.4 L167.5,608.9 L167.6,607.4 L167.6,605.9 L167.7,604.4 L167.7,602.9 L167.7,601.4 L167.8,599.9 L167.8,598.4 L167.9,596.9 L167.9,595.4 L168.0,593.9 L168.0,592.4 L168.0,590.9 L168.1,589.4 L168.1,587.9 L168.2,586.4 L168.2,584.9 L168.3,583.4 L168.3,581.9 L168.3,580.4 L168.4,578.9 L168.4,577.3 L168.5,575.8 L168.5,574.3 L168.5,572.8 L168.6,571.3 L168.6,569.8 L168.7,568.3 L168.7,566.8 L168.8,565.3 L168.8,563.8 L168.8,562.3 L168.9,560.8 L168.9,559.3 L169.0,557.8 L169.0,556.3 L169.0,554.8 L169.1,553.3 L169.1,551.8 L169.1,550.3 L169.2,548.8 L169.2,547.3 L169.3,545.8 L169.3,544.3 L169.3,542.8 L169.4,541.3 L169.4,539.8 L169.5,538.3 L169.5,536.8 L169.5,535.3 L169.6,533.8 L169.6,532.3 L169.6,530.8 L169.7,529.3 L169.7,527.8 L169.7,526.3 L169.8,524.8 L169.8,523.3 L169.9,521.8 L169.9,520.3 L169.9,518.8 L170.0,517.3 L170.0,515.8 L170.0,514.3 L170.1,512.8 L170.1,511.3 L170.1,509.8 L170.2,508.3 L170.2,506.8 L170.3,505.3 L170.3,503.8 L170.3,502.3 L170.4,500.8 L170.4,499.3 L170.4,497.8 L170.5,496.3 L170.5,494.8 L170.5,493.3 L170.6,491.8 L170.6,490.3 L170.6,488.8 L170.7,487.3 L170.7,485.8 L170.7,484.3 L170.8,482.8 L170.8,481.3 L170.8,479.8 L170.9,478.3 L170.9,476.8 L170.9,475.3 L171.0,473.8 L171.0,472.3 L171.0,470.8 L171.1,469.3 L171.1,467.8 L171.1,466.3 L171.2,464.8 L171.2,463.3 L171.2,461.8 L171.3,460.3 L171.3,458.8 L171.3,457.3 L171.4,455.8 L171.4,454.3 L171.4,452.8 L171.5,451.3 L171.5,449.8 L171.5,448.3 L171.6,446.8 L171.6,445.3 L171.6,443.8 L171.7,442.3 L171.7,440.8 L171.7,439.3 L171.8,437.8 L171.8,436.3 L171.8,434.8 L171.9,433.3 L171.9,431.8 L171.9,430.3 L172.0,428.8 L172.0,427.3 L172.0,425.8 L172.1,424.3 L172.1,422.8 L172.1,421.3 L172.2,419.8 L172.2,418.3 L172.2,416.8 L172.3,415.3 L172.3,413.8 L172.3,412.3 L172.4,410.8 L172.4,409.3 L172.4,407.8 L172.5,406.3 L172.5,404.8 L172.5,403.3 L172.5,401.8 L172.6,400.3 L172.6,398.8 L172.6,397.3 L172.7,395.8 L172.7,394.3 L172.7,392.8 L172.8,391.3 L172.8,389.8 L172.8,388.3 L172.9,386.8 L172.9,385.3 L172.9,383.8 L173.0,382.3 L173.0,380.8 L173.0,379.3 L173.1,377.8 L173.1,376.3 L173.1,374.8 L173.2,373.3 L173.2,371.9 L173.2,370.4 L173.3,368.9 L173.3,367.4 L173.3,365.9 L173.4,364.4 L173.4,362.9 L173.4,361.4 L173.4,359.9 L173.5,358.4 L173.5,356.9 L173.5,355.4 L173.6,353.9 L173.6,352.4 L173.6,350.9 L173.7,349.4 L173.7,347.9 L173.7,346.4 L173.8,344.9 L173.8,343.4 L173.8,341.9 L173.9,340.4 L173.9,338.9 L173.9,337.4 L174.0,335.9 L174.0,334.4 L174.0,332.9 L174.1,331.4 L174.1,329.9 L174.1,328.4 L174.2,326.9 L174.2,325.5 L174.2,324.0 L174.3,322.5 L174.3,321.0 L174.3,319.5 L174.4,318.0 L174.4,316.5 L174.4,315.0 L174.5,313.5 L174.5,312.0 L174.5,310.5 L174.6,309.0 L174.6,307.5 L174.6,306.0 L174.7,304.5 L174.7,303.0 L174.7,301.5 L174.8,300.0 L174.8,298.5 L174.8,297.0 L174.9,295.5 L174.9,294.0 L174.9,292.6 L175.0,291.1 L175.0,289.6 L175.1,288.1 L175.1,286.6 L175.1,285.1 L175.2,283.6 L175.2,282.1 L175.2,280.6 L175.3,279.1 L175.3,277.6 L175.3,276.1 L175.4,274.6 L175.4,273.1 L175.4,271.6 L175.5,270.1 L175.5,268.6 L175.6,267.2 L175.6,265.7 L175.6,264.2 L175.7,262.7 L175.7,261.2 L175.7,259.7 L175.8,258.2 L175.8,256.7 L175.9,255.2 L175.9,253.7 L175.9,252.2 L176.0,250.7 L176.0,249.2 L176.0,247.7 L176.1,246.3 L176.1,244.8 L176.2,243.3 L176.2,241.8 L176.2,240.3 L176.3,238.8 L176.3,237.3 L176.3,235.8 L176.4,234.3 L176.4,232.8 L176.5,231.3 L176.5,229.8 L176.5,228.3 L176.6,226.8 L176.6,225.3 L176.7,223.9 L176.7,222.4 L176.8,220.9 L176.8,219.4 L176.9,217.9 L176.9,216.4 L177.0,214.9 L177.0,213.3 L177.1,211.8 L177.1,210.3 L177.2,208.8 L177.2,207.3 L177.3,205.8 L177.3,204.3 L177.4,202.7 L177.5,201.2 L177.5,199.7 L177.6,198.2 L177.7,196.6 L177.8,195.1 L177.8,193.6 L177.9,192.0 L178.0,190.5 L178.1,188.9 L178.2,187.4 L178.3,185.8 L178.4,184.2 L178.5,182.7 L178.6,181.1 L178.7,179.5 L178.8,178.0 L178.9,176.4 L179.0,174.8 L179.1,173.2 L179.2,171.6 L179.4,170.0 L179.5,168.4 L179.6,166.8 L179.8,165.1 L179.9,163.5 L180.0,161.9 L180.2,160.3 L180.3,158.7 L180.5,157.2 L180.7,155.8 L180.9,154.7 L181.1,153.8 L181.4,153.2 L181.6,153.0 L181.9,153.3 L182.3,153.9 L182.6,154.9 L183.0,156.2 L183.3,157.6 L183.7,159.2 L184.0,160.9 L184.3,162.6 L184.6,164.3 L184.8,166.0 L185.1,167.6 L185.2,169.2 L185.4,170.8 L185.6,172.4 L185.7,173.9 L185.8,175.5 L185.9,177.0 L186.0,178.5 L186.0,180.0 L186.1,181.5 L186.1,182.9 L186.2,184.4 L186.2,185.9 L186.2,187.3 L186.2,188.8 L186.3,190.2 L186.3,191.7 L186.3,193.2 L186.4,194.6 L186.4,196.1 L186.4,197.6 L186.5,199.1 L186.5,200.5 L186.6,202.0 L186.6,203.5 L186.7,205.0 L186.7,206.5 L186.8,208.0 L186.8,209.5 L186.9,210.9 L187.0,212.4 L187.0,213.9 L187.1,215.4 L187.1,216.9 L187.2,218.4 L187.3,219.9 L187.3,221.4 L187.4,222.9 L187.5,224.4 L187.5,225.9 L187.6,227.4 L187.7,228.9 L187.7,230.4 L187.8,231.9 L187.9,233.4 L187.9,234.9 L188.0,236.4 L188.1,237.9 L188.1,239.4 L188.2,240.9 L188.2,242.4 L188.3,243.9 L188.4,245.4 L188.4,247.0 L188.5,248.5 L188.6,250.0 L188.6,251.5 L188.7,253.0 L188.8,254.5 L188.8,256.0 L188.9,257.5 L188.9,259.0 L189.0,260.5 L189.1,262.0 L189.1,263.5 L189.2,265.0 L189.2,266.5 L189.3,268.0 L189.4,269.5 L189.4,271.0 L189.5,272.5 L189.5,274.0 L189.6,275.5 L189.6,277.0 L189.7,278.5 L189.8,280.0 L189.8,281.5 L189.9,283.0 L189.9,284.5 L190.0,286.0 L190.0,287.5 L190.1,289.0 L190.1,290.5 L190.2,292.0 L190.3,293.5 L190.3,295.0 L190.4,296.5 L190.4,298.0 L190.5,299.5 L190.5,301.0 L190.6,302.5 L190.6,304.0 L190.7,305.5 L190.7,307.0 L190.8,308.6 L190.8,310.1 L190.9,311.6 L190.9,313.1 L191.0,314.6 L191.0,316.1 L191.1,317.6 L191.1,319.1 L191.2,320.6 L191.2,322.1 L191.3,323.6 L191.3,325.1 L191.4,326.6 L191.4,328.1 L191.5,329.6 L191.5,331.1 L191.6,332.6 L191.6,334.1 L191.7,335.6 L191.7,337.1 L191.8,338.6 L191.8,340.1 L191.9,341.6 L191.9,343.1 L192.0,344.6 L192.0,346.1 L192.0,347.6 L192.1,349.1 L192.1,350.6 L192.2,352.1 L192.2,353.6 L192.3,355.1 L192.3,356.6 L192.4,358.1 L192.4,359.6 L192.5,361.1 L192.5,362.6 L192.5,364.1 L192.6,365.6 L192.6,367.1 L192.7,368.6 L192.7,370.1 L192.8,371.6 L192.8,373.1 L192.8,374.6 L192.9,376.1 L192.9,377.6 L193.0,379.1 L193.0,380.6 L193.1,382.1 L193.1,383.6 L193.1,385.1 L193.2,386.6 L193.2,388.1 L193.3,389.6 L193.3,391.1 L193.4,392.6 L193.4,394.1 L193.4,395.6 L193.5,397.1 L193.5,398.6 L193.6,400.1 L193.6,401.6 L193.6,403.1 L193.7,404.6 L193.7,406.1 L193.8,407.6 L193.8,409.1 L193.9,410.6 L193.9,412.1 L193.9,413.6 L194.0,415.1 L194.0,416.6 L194.1,418.1 L194.1,419.6 L194.1,421.1 L194.2,422.6 L194.2,424.1 L194.3,425.6 L194.3,427.1 L194.3,428.6 L194.4,430.1 L194.4,431.6 L194.5,433.1 L194.5,434.6 L194.5,436.1 L194.6,437.6 L194.6,439.1 L194.7,440.6 L194.7,442.1 L194.7,443.6 L194.8,445.1 L194.8,446.6 L194.9,448.1 L194.9,449.6 L194.9,451.1 L195.0,452.6 L195.0,454.1 L195.1,455.6 L195.1,457.1 L195.1,458.6 L195.2,460.1 L195.2,461.6 L195.3,463.1 L195.3,464.6 L195.3,466.1 L195.4,467.6 L195.4,469.1 L195.5,470.6 L195.5,472.1 L195.5,473.6 L195.6,475.1 L195.6,476.6 L195.7,478.1 L195.7,479.6 L195.7,481.1 L195.8,482.6 L195.8,484.1 L195.9,485.6 L195.9,487.1 L195.9,488.6 L196.0,490.1 L196.0,491.6 L196.1,493.1 L196.1,494.6 L196.1,496.1 L196.2,497.6 L196.2,499.1 L196.3,500.6 L196.3,502.1 L196.4,503.6 L196.4,505.1 L196.4,506.6 L196.5,508.1 L196.5,509.6 L196.6,511.1 L196.6,512.6 L196.7,514.1 L196.7,515.6 L196.7,517.1 L196.8,518.6 L196.8,520.1 L196.9,521.6 L196.9,523.1 L196.9,524.6 L197.0,526.1 L197.0,527.6 L197.1,529.1 L197.1,530.6 L197.2,532.1 L197.2,533.6 L197.3,535.1 L197.3,536.6 L197.3,538.1 L197.4,539.6 L197.4,541.1 L197.5,542.6 L197.5,544.1 L197.6,545.6 L197.6,547.1 L197.7,548.6 L197.7,550.1 L197.7,551.6 L197.8,553.1 L197.8,554.6 L197.9,556.1 L197.9,557.6 L198.0,559.1 L198.0,560.6 L198.1,562.1 L198.1,563.6 L198.2,565.1 L198.2,566.6 L198.3,568.1 L198.3,569.6 L198.4,571.1 L198.4,572.6 L198.5,574.1 L198.5,575.6 L198.6,577.1 L198.6,578.6 L198.7,580.1 L198.7,581.6 L198.8,583.1 L198.8,584.6 L198.9,586.1 L198.9,587.6 L199.0,589.1 L199.0,590.6 L199.1,592.1 L199.1,593.6 L199.2,595.1 L199.2,596.6 L199.3,598.1 L199.3,599.6 L199.4,601.1 L199.4,602.6 L199.5,604.1 L199.5,605.6 L199.6,607.1 L199.6,608.6 L199.7,610.1 L199.7,611.6 L199.8,613.1 L199.9,614.6 L199.9,616.1 L200.0,617.6 L200.0,619.1 L200.1,620.6 L200.1,622.1 L200.2,623.6 L200.2,625.1 L200.3,626.6 L200.4,628.1 L200.4,629.6 L200.5,631.1 L200.5,632.6 L200.6,634.1 L200.7,635.6 L200.7,637.0 L200.8,638.5 L200.8,640.0 L200.9,641.5 L201.0,643.0 L201.0,644.5 L201.1,646.0 L201.1,647.5 L201.2,649.0 L201.3,650.5 L201.3,652.0 L201.4,653.5 L201.5,655.0 L201.5,656.5 L201.6,658.0 L201.7,659.5 L201.7,661.0 L201.8,662.5 L201.8,664.0 L201.9,665.5 L202.0,667.0 L202.0,668.5 L202.1,670.0 L202.2,671.5 L202.3,673.0 L202.3,674.5 L202.4,676.0 L202.5,677.5 L202.5,679.0 L202.6,680.5 L202.7,682.0 L202.7,683.5 L202.8,685.0 L202.9,686.5 L203.0,688.0 L203.0,689.5 L203.1,691.0 L203.2,692.5 L203.2,694.0 L203.3,695.5 L203.4,697.0 L203.5,698.5 L203.5,700.0 L203.6,701.5 L203.7,703.0 L203.8,704.5 L203.8,706.0 L203.9,707.5 L204.0,709.0 L204.1,710.5 L204.2,712.0 L204.2,713.5 L204.3,715.0 L204.4,716.5 L204.5,718.0 L204.6,719.5 L204.6,721.0 L204.7,722.5 L204.8,724.0 L204.9,725.5 L205.0,727.0 L205.1,728.5 L205.1,730.0 L205.2,731.5 L205.3,733.0 L205.4,734.5 L205.5,735.9 L205.6,737.4 L205.7,738.9 L205.7,740.4 L205.8,741.9 L205.9,743.4 L206.0,744.9 L206.1,746.4 L206.2,747.9 L206.3,749.4 L206.4,750.9 L206.5,752.4 L206.6,753.9 L206.7,755.4 L206.7,756.9 L206.8,758.4 L206.9,759.9 L207.0,761.4 L207.1,762.9 L207.2,764.4 L207.3,765.9 L207.4,767.4 L207.5,768.9 L207.6,770.4 L207.7,771.9 L207.8,773.4 L207.9,774.9 L208.0,776.4 L208.1,777.9 L208.2,779.4 L208.3,780.9 L208.4,782.4 L208.5,783.9 L208.6,785.4 L208.7,786.9 L208.8,788.4 L208.9,789.9 L209.0,791.4 L209.1,792.9 L209.3,794.4 L209.4,795.9 L209.5,797.4 L209.6,798.9 L209.7,800.4 L209.8,801.9 L209.9,803.4 L210.0,804.9 L210.1,806.4 L210.2,807.9 L210.4,809.4 L210.5,810.9 L210.6,812.4 L210.7,813.9 L210.8,815.4 L210.9,816.9 L211.1,818.4 L211.2,819.9 L211.3,821.4 L211.4,822.9 L211.5,824.4 L211.6,825.9 L211.8,827.3 L211.9,828.8 L212.0,830.3 L212.1,831.8 L212.3,833.3 L212.4,834.8 L212.5,836.3 L212.6,837.8 L212.8,839.3 L212.9,840.8 L213.0,842.3 L213.1,843.8 L213.3,845.3 L213.4,846.8 L213.5,848.3 L213.7,849.8 L213.8,851.3 L213.9,852.8 L214.1,854.3 L214.2,855.8 L214.3,857.3 L214.5,858.8 L214.6,860.3 L214.7,861.8 L214.9,863.3 L215.0,864.8 L215.2,866.3 L215.3,867.8 L215.5,869.3 L215.6,870.8 L215.8,872.3 L215.9,873.8 L216.1,875.3 L216.2,876.8 L216.4,878.3 L216.6,879.8 L216.7,881.3 L216.9,882.7 L217.0,884.2 L217.2,885.7 L217.4,887.2 L217.5,888.7 L217.7,890.2 L217.9,891.7 L218.1,893.2 L218.3,894.7 L218.4,896.2 L218.6,897.7 L218.8,899.2 L219.0,900.6 L219.2,902.1 L219.4,903.6 L219.6,905.1 L219.8,906.6 L220.0,908.1 L220.2,909.6 L220.4,911.0 L220.6,912.5 L220.8,914.0 L221.0,915.5 L221.3,917.0 L221.5,918.5 L221.7,919.9 L221.9,921.4 L222.2,922.9 L222.4,924.4 L222.7,925.9 L222.9,927.3 L223.1,928.8 L223.4,930.3 L223.6,931.8 L223.9,933.3 L224.2,934.7 L224.4,936.2 L224.7,937.7 L225.0,939.1 L225.2,940.6 L225.5,942.1 L225.8,943.6 L226.1,945.0 L226.4,946.5 L226.7,948.0 L227.0,949.4 L227.3,950.9 L227.6,952.4 L227.9,953.8 L228.2,955.3 L228.5,956.7 L228.8,958.2 L229.2,959.7 L229.5,961.1 L229.8,962.6 L230.2,964.0 L230.5,965.5 L230.9,967.0 L231.2,968.4 L231.6,969.9 L231.9,971.3 L232.3,972.8 L232.7,974.2 L233.0,975.7 L233.4,977.1 L233.8,978.6 L234.2,980.0 L234.6,981.4 L235.0,982.9 L235.4,984.3 L235.8,985.8 L236.2,987.2 L236.7,988.7 L237.1,990.1 L237.5,991.5 L238.0,993.0 L238.4,994.4 L238.9,995.8 L239.3,997.2 L239.8,998.7 L240.3,1000.1 L240.8,1001.5 L241.3,1002.9 L241.8,1004.3 L242.3,1005.7 L242.9,1007.1 L243.5,1008.5 L244.0,1009.9 L244.6,1011.3 L245.3,1012.6 L245.9,1014.0 L246.6,1015.3 L247.3,1016.7 L248.0,1018.0 L248.7,1019.3 L249.5,1020.6 L250.3,1021.9 L251.1,1023.2 L252.0,1024.5 L252.8,1025.8 L253.7,1027.0 L254.7,1028.2 L255.6,1029.4 L256.6,1030.6 L257.6,1031.8 L258.7,1032.9 L259.7,1034.0 L260.8,1035.1 L261.9,1036.1 L263.1,1037.1 L264.3,1038.0 L265.4,1038.9 L266.7,1039.8 L267.9,1040.6 L269.2,1041.4 L270.5,1042.1 L271.8,1042.8 L273.2,1043.4 L274.5,1043.9 L275.9,1044.5 L277.3,1045.0 L278.7,1045.5 L280.1,1046.0 L281.5,1046.5 L282.9,1047.0 L284.3,1047.5 L285.7,1048.1 L287.0,1048.7 L288.3,1049.4 L289.6,1050.1 L290.9,1050.9 L292.1,1051.8 L293.3,1052.7 L294.5,1053.6 L295.7,1054.6 L296.8,1055.6 L298.0,1056.6 L299.2,1057.6 L300.4,1058.6 L301.6,1059.5 L302.8,1060.4 L304.0,1061.3 L305.3,1062.1 L306.6,1062.9 L307.9,1063.7 L309.2,1064.4 L310.5,1065.1 L311.8,1065.8 L313.2,1066.5 L314.5,1067.1 L315.9,1067.7 L317.3,1068.2 L318.7,1068.8 L320.1,1069.3 L321.5,1069.8 L322.9,1070.3 L324.3,1070.7 L325.7,1071.2 L327.2,1071.6 L328.6,1071.9 L330.1,1072.3 L331.5,1072.7 L333.0,1073.0 L334.5,1073.3 L335.9,1073.6 L337.4,1073.9 L338.9,1074.1 L340.3,1074.4 L341.8,1074.6 L343.3,1074.8 L344.8,1075.0 L346.2,1075.2 L347.7,1075.4 L349.2,1075.5 L350.7,1075.7 L352.2,1075.8 L353.6,1075.9 L355.1,1076.0 L356.6,1076.1 L358.1,1076.2 L359.6,1076.3 L361.1,1076.3 L362.6,1076.4 L364.1,1076.4 L365.6,1076.5 L367.1,1076.5 L368.5,1076.5 L370.0,1076.5 L371.5,1076.5 L373.0,1076.5 L374.5,1076.5 L376.0,1076.4 L377.5,1076.4 L379.0,1076.4 L380.5,1076.3 L382.0,1076.3 L383.5,1076.2 L385.0,1076.2 L386.6,1076.1 L388.1,1076.0 L389.6,1075.9 L391.1,1075.9 L392.6,1075.8 L394.1,1075.7 L395.6,1075.6 L397.1,1075.5 L398.6,1075.4 L400.1,1075.3 L401.6,1075.2 L403.1,1075.1 L404.6,1075.0 L406.1,1074.9 L407.6,1074.8 L409.1,1074.7 L410.6,1074.6 L412.2,1074.5 L413.7,1074.4 L415.2,1074.3 L416.7,1074.2 L418.2,1074.1 L419.7,1074.0 L421.2,1074.0 L422.7,1073.9 L424.2,1073.8 L425.7,1073.7 L427.2,1073.6 L428.7,1073.6 L430.2,1073.5 L431.7,1073.4 L433.2,1073.4 L434.7,1073.3 L436.2,1073.2 L437.7,1073.2 L439.2,1073.1 L440.8,1073.1 L442.3,1073.0 L443.8,1073.0 L445.3,1072.9 L446.8,1072.9 L448.3,1072.8 L449.8,1072.8 L451.3,1072.7 L452.8,1072.7 L454.3,1072.6 L455.8,1072.6 L457.3,1072.6 L458.8,1072.5 L460.3,1072.5 L461.8,1072.5 L463.3,1072.4 L464.8,1072.4 L466.3,1072.3 L467.8,1072.3 L469.3,1072.3 L470.8,1072.2 L472.3,1072.2 L473.8,1072.2 L475.3,1072.1 L476.8,1072.1 L478.3,1072.1 L479.7,1072.0 L481.2,1072.0 L482.7,1071.9 L484.2,1071.9 L485.7,1071.9 L487.2,1071.8 L488.7,1071.8 L490.2,1071.7 L491.7,1071.7 L493.2,1071.6 L494.7,1071.6 L496.2,1071.5 L497.7,1071.5 L499.2,1071.4 L500.7,1071.4 L502.2,1071.3 L503.7,1071.3 L505.2,1071.2 L506.7,1071.2 L508.2,1071.1 L509.7,1071.0 L511.2,1071.0 L512.7,1070.9 L514.2,1070.8 L515.7,1070.8 L517.1,1070.7 L518.6,1070.6 L520.1,1070.5 L521.6,1070.4 L523.1,1070.3 L524.6,1070.2 L526.1,1070.1 L527.6,1070.0 L529.1,1069.9 L530.6,1069.8 L532.1,1069.7 L533.6,1069.6 L535.1,1069.5 L536.6,1069.4 L538.1,1069.3 L539.6,1069.1 L541.0,1069.0 L542.5,1068.9 L544.0,1068.7 L545.5,1068.6 L547.0,1068.4 L548.5,1068.3 L550.0,1068.1 L551.5,1067.9 L553.0,1067.8 L554.5,1067.6 L556.0,1067.4 L557.5,1067.2 L559.0,1067.0 L560.5,1066.8 L562.0,1066.6 L563.4,1066.4 L564.9,1066.2 L566.4,1066.0 L567.9,1065.8 L569.4,1065.6 L570.9,1065.4 L572.4,1065.1 L573.9,1064.9 L575.4,1064.7 L576.9,1064.4 L578.4,1064.2 L579.9,1064.0 L581.4,1063.8 L582.8,1063.5 L584.3,1063.3 L585.8,1063.1 L587.3,1062.9 L588.8,1062.7 L590.3,1062.5 L591.8,1062.3 L593.3,1062.1 L594.8,1061.9 L596.2,1061.7 L597.7,1061.5 L599.2,1061.3 L600.7,1061.2 L602.2,1061.0 L603.7,1060.8 L605.1,1060.7 L606.6,1060.4 L608.1,1060.2 L609.5,1059.9 L611.0,1059.6 L612.4,1059.3 L613.9,1058.8 L615.3,1058.3 L616.7,1057.8 L618.1,1057.2 L619.5,1056.6 L620.8,1056.0 L622.2,1055.3 L623.5,1054.6 L624.8,1053.8 L626.2,1053.0 L627.5,1052.2 L628.8,1051.4 L630.0,1050.6 L631.3,1049.7 L632.5,1048.9 L633.8,1048.0 L635.0,1047.2 L636.2,1046.3 L637.4,1045.4 L638.6,1044.5 L639.8,1043.7 L641.0,1042.8 L642.1,1041.9 L643.3,1041.0 L644.5,1040.1 L645.7,1039.2 L646.9,1038.3 L648.1,1037.4 L649.3,1036.5 L650.6,1035.6 L651.8,1034.7 L653.1,1033.9 L654.4,1033.0 L655.7,1032.3 L657.0,1031.6 L658.4,1030.9 L659.7,1030.4 L661.1,1030.0 L662.6,1029.6 L664.0,1029.4 L665.5,1029.3 L667.0,1029.4 L668.5,1029.5 L670.1,1029.8 L671.6,1030.2 L673.0,1030.7 L674.5,1031.3 L675.8,1031.9 L677.2,1032.6 L678.5,1033.3 L679.8,1034.1 L681.0,1034.9 L682.2,1035.8 L683.4,1036.7 L684.6,1037.6 L685.7,1038.5 L686.9,1039.5 L688.0,1040.4 L689.1,1041.4 L690.3,1042.3 L691.4,1043.3 L692.6,1044.2 L693.8,1045.1 L695.0,1046.0 L696.2,1046.9 L697.4,1047.7 L698.7,1048.5 L700.0,1049.2 L701.3,1049.9 L702.7,1050.6 L704.0,1051.2 L705.4,1051.9 L706.8,1052.4 L708.2,1053.0 L709.7,1053.5 L711.1,1054.0 L712.6,1054.5 L714.1,1054.9 L715.5,1055.4 L717.0,1055.8 L718.5,1056.2 L720.0,1056.5 L721.5,1056.9 L722.9,1057.2 L724.4,1057.6 L725.9,1057.9 L727.4,1058.2 L728.9,1058.5 L730.3,1058.8 L731.8,1059.1 L733.3,1059.3 L734.8,1059.6 L736.2,1059.8 L737.7,1060.1 L739.2,1060.3 L740.7,1060.5 L742.1,1060.7 L743.6,1060.9 L745.1,1061.0 L746.5,1061.2 L748.0,1061.3 L749.5,1061.5 L750.9,1061.6 L752.4,1061.7 L753.9,1061.9 L755.3,1062.0 L756.8,1062.1 L758.3,1062.1 L759.8,1062.2 L761.2,1062.3 L762.7,1062.3 L764.2,1062.4 L765.7,1062.4 L767.1,1062.5 L768.6,1062.5 L770.1,1062.5 L771.6,1062.5 L773.0,1062.5 L774.5,1062.5 L776.0,1062.5 L777.5,1062.5 L779.0,1062.5 L780.5,1062.4 L782.0,1062.4 L783.5,1062.4 L785.0,1062.3 L786.5,1062.3 L788.0,1062.2 L789.5,1062.1 L791.0,1062.1 L792.5,1062.0 L794.0,1061.9 L795.5,1061.8 L797.0,1061.7 L798.5,1061.6 L800.1,1061.5 L801.6,1061.4 L803.1,1061.3 L804.7,1061.2 L806.2,1061.0 L807.7,1060.9 L809.3,1060.8 L810.8,1060.6 L812.4,1060.5 L813.9,1060.4 L815.5,1060.2 L817.0,1060.0 L818.6,1059.9 L820.1,1059.7 L821.6,1059.5 L823.2,1059.3 L824.7,1059.0 L826.2,1058.8 L827.8,1058.5 L829.3,1058.3 L830.8,1058.0 L832.3,1057.7 L833.8,1057.4 L835.2,1057.0 L836.7,1056.6 L838.2,1056.2 L839.6,1055.8 L841.0,1055.4 L842.4,1054.9 L843.8,1054.5 L845.2,1053.9 L846.6,1053.4 L847.9,1052.8 L849.2,1052.2 L850.5,1051.6 L851.8,1050.9 L853.1,1050.2 L854.3,1049.5 L855.5,1048.8 L856.7,1048.0 L857.9,1047.1 L859.1,1046.3 L860.2,1045.4 L861.3,1044.4 L862.4,1043.5 L863.4,1042.4 L864.5,1041.4 L865.5,1040.4 L866.5,1039.3 L867.5,1038.2 L868.5,1037.1 L869.5,1036.0 L870.5,1034.8 L871.5,1033.7 L872.6,1032.5 L873.6,1031.4 L874.6,1030.2 L875.7,1029.1 L876.8,1028.0 L877.8,1026.8 L879.0,1025.7 L880.1,1024.6 L881.3,1023.5 L882.5,1022.5 L883.7,1021.5 L885.0,1020.5 L886.3,1019.5 L887.6,1018.6 L888.9,1017.8 L890.2,1017.1 L891.6,1016.5 L892.9,1016.0 L894.3,1015.7 L895.6,1015.4 L897.0,1015.4 L898.3,1015.4 L899.6,1015.7 L900.9,1016.0 L902.1,1016.5 L903.4,1017.1 L904.7,1017.7 L905.9,1018.5 L907.2,1019.3 L908.5,1020.2 L909.7,1021.1 L911.0,1022.1 L912.2,1023.1 L913.5,1024.1 L914.7,1025.1 L916.0,1026.1 L917.2,1027.1 L918.5,1028.0 L919.8,1028.9 L921.0,1029.9 L922.3,1030.7 L923.6,1031.6 L924.9,1032.5 L926.2,1033.3 L927.5,1034.1 L928.8,1034.9 L930.1,1035.6 L931.4,1036.4 L932.8,1037.1 L934.1,1037.8 L935.4,1038.5 L936.7,1039.2 L938.1,1039.8 L939.4,1040.4 L940.8,1041.0 L942.1,1041.6 L943.5,1042.2 L944.9,1042.8 L946.2,1043.3 L947.6,1043.8 L949.0,1044.3 L950.4,1044.8 L951.8,1045.3 L953.2,1045.7 L954.6,1046.2 L956.0,1046.6 L957.4,1047.0 L958.8,1047.4 L960.3,1047.7 L961.7,1048.1 L963.1,1048.4 L964.6,1048.7 L966.0,1049.0 L967.5,1049.3 L968.9,1049.6 L970.4,1049.9 L971.9,1050.1 L973.3,1050.3 L974.8,1050.5 L976.3,1050.7 L977.8,1050.9 L979.2,1051.1 L980.7,1051.3 L982.2,1051.4 L983.7,1051.6 L985.2,1051.7 L986.7,1051.8 L988.2,1051.9 L989.7,1052.0 L991.2,1052.0 L992.7,1052.1 L994.2,1052.1 L995.7,1052.2 L997.2,1052.2 L998.8,1052.2 L1000.3,1052.2 L1001.8,1052.2 L1003.3,1052.2 L1004.8,1052.1 L1006.3,1052.1 L1007.9,1052.0 L1009.4,1052.0 L1010.9,1051.9 L1012.4,1051.8 L1013.9,1051.7 L1015.5,1051.6 L1017.0,1051.5 L1018.5,1051.4 L1020.0,1051.3 L1021.5,1051.1 L1023.0,1051.0 L1024.6,1050.8 L1026.1,1050.7 L1027.6,1050.5 L1029.1,1050.3 L1030.6,1050.1 L1032.1,1049.9 L1033.6,1049.7 L1035.1,1049.5 L1036.6,1049.3 L1038.1,1049.1 L1039.6,1048.8 L1041.1,1048.6 L1042.6,1048.4 L1044.1,1048.1 L1045.5,1047.9 L1047.0,1047.6 L1048.5,1047.3 L1050.0,1047.0 L1051.4,1046.7 L1052.9,1046.4 L1054.3,1046.1 L1055.8,1045.7 L1057.2,1045.4 L1058.7,1045.0 L1060.1,1044.6 L1061.5,1044.2 L1062.9,1043.8 L1064.3,1043.3 L1065.7,1042.9 L1067.1,1042.4 L1068.5,1041.9 L1069.9,1041.3 L1071.3,1040.8 L1072.6,1040.2 L1074.0,1039.6 L1075.3,1039.0 L1076.6,1038.3 L1078.0,1037.6 L1079.3,1036.9 L1080.6,1036.2 L1081.9,1035.4 L1083.1,1034.6 L1084.4,1033.8 L1085.6,1032.9 L1086.9,1032.0 L1088.1,1031.1 L1089.3,1030.2 L1090.4,1029.2 L1091.6,1028.2 L1092.7,1027.2 L1093.8,1026.2 L1094.9,1025.1 L1095.9,1024.0 L1097.0,1023.0 L1098.0,1021.8 L1098.9,1020.7 L1099.9,1019.5 L1100.8,1018.4 L1101.6,1017.2 L1102.5,1015.9 L1103.3,1014.7 L1104.1,1013.5 L1104.9,1012.2 L1105.7,1010.9 L1106.4,1009.7 L1107.2,1008.4 L1107.9,1007.1 L1108.6,1005.7 L1109.3,1004.4 L1110.0,1003.1 L1110.6,1001.7 L1111.3,1000.4 L1111.9,999.0 L1112.6,997.7 L1113.2,996.3 L1113.9,994.9 L1114.5,993.5 L1115.2,992.2 L1115.8,990.8 L1116.4,989.4 L1117.1,988.0 L1117.7,986.7 L1118.4,985.3 L1119.1,983.9 L1119.7,982.6 L1120.4,981.2 L1121.1,979.8 L1121.9,978.5 L1122.6,977.2 L1123.4,975.8 L1124.2,974.6 L1125.1,973.3 L1126.0,972.1 L1127.0,970.9 L1128.0,969.8 L1129.1,968.7 L1130.3,967.6 L1131.6,966.7 L1132.9,966.0 L1134.2,965.5 L1135.5,965.2 L1136.8,965.3 L1138.1,965.7 L1139.3,966.4 L1140.5,967.2 L1141.7,968.2 L1142.8,969.2 L1143.9,970.3 L1145.0,971.4 L1146.0,972.5 L1147.0,973.7 L1148.0,974.8 L1148.9,976.0 L1149.8,977.2 L1150.7,978.4 L1151.6,979.7 L1152.4,980.9 L1153.2,982.2 L1154.0,983.5 L1154.8,984.8 L1155.6,986.1 L1156.3,987.4 L1157.1,988.7 L1157.8,990.0 L1158.5,991.3 L1159.2,992.7 L1159.9,994.0 L1160.7,995.3 L1161.4,996.7 L1162.1,998.0 L1162.8,999.3 L1163.5,1000.7 L1164.2,1002.0 L1165.0,1003.3 L1165.7,1004.6 L1166.5,1005.9 L1167.2,1007.2 L1168.0,1008.5 L1168.8,1009.8 L1169.6,1011.1 L1170.4,1012.4 L1171.2,1013.6 L1172.0,1014.9 L1172.9,1016.1 L1173.7,1017.4 L1174.6,1018.6 L1175.5,1019.8 L1176.4,1020.9 L1177.3,1022.1 L1178.3,1023.3 L1179.2,1024.4 L1180.2,1025.5 L1181.2,1026.6 L1182.2,1027.7 L1183.3,1028.8 L1184.3,1029.8 L1185.4,1030.8 L1186.6,1031.8 L1187.7,1032.8 L1188.9,1033.8 L1190.1,1034.7 L1191.3,1035.6 L1192.5,1036.5 L1193.8,1037.3 L1195.0,1038.2 L1196.3,1039.0 L1197.6,1039.8 L1198.9,1040.5 L1200.3,1041.2 L1201.6,1041.9 L1203.0,1042.6 L1204.3,1043.2 L1205.7,1043.8 L1207.1,1044.4 L1208.5,1044.9 L1209.9,1045.5 L1211.3,1046.0 L1212.7,1046.5 L1214.1,1046.9 L1215.5,1047.4 L1216.9,1047.8 L1218.4,1048.2 L1219.8,1048.6 L1221.3,1049.0 L1222.7,1049.4 L1224.2,1049.7 L1225.7,1050.1 L1227.1,1050.4 L1228.6,1050.7 L1230.1,1051.0 L1231.5,1051.3 L1233.0,1051.6 L1234.5,1051.9 L1236.0,1052.2 L1237.5,1052.5 L1238.9,1052.8 L1240.4,1053.0 L1241.9,1053.3 L1243.4,1053.6 L1244.9,1053.9 L1246.3,1054.1 L1247.8,1054.4 L1249.3,1054.7 L1250.8,1055.0 L1252.3,1055.2 L1253.8,1055.5 L1255.2,1055.8 L1256.7,1056.0 L1258.2,1056.3 L1259.7,1056.6 L1261.1,1056.9 L1262.6,1057.1 L1264.1,1057.4 L1265.6,1057.6 L1267.1,1057.9 L1268.5,1058.2 L1270.0,1058.4 L1271.5,1058.7 L1273.0,1058.9 L1274.5,1059.2 L1275.9,1059.4 L1277.4,1059.7 L1278.9,1059.9 L1280.4,1060.2 L1281.9,1060.4 L1283.3,1060.6 L1284.8,1060.9 L1286.3,1061.1 L1287.8,1061.3 L1289.3,1061.5 L1290.7,1061.8 L1292.2,1062.0 L1293.7,1062.2 L1295.2,1062.4 L1296.7,1062.6 L1298.2,1062.8 L1299.7,1063.0 L1301.1,1063.2 L1302.6,1063.3 L1304.1,1063.5 L1305.6,1063.7 L1307.1,1063.9 L1308.6,1064.0 L1310.1,1064.2 L1311.6,1064.4 L1313.1,1064.5 L1314.5,1064.7 L1316.0,1064.8 L1317.5,1065.0 L1319.0,1065.1 L1320.5,1065.3 L1322.0,1065.4 L1323.5,1065.5 L1325.0,1065.7 L1326.5,1065.8 L1328.0,1065.9 L1329.5,1066.0 L1331.0,1066.1 L1332.5,1066.3 L1334.0,1066.4 L1335.5,1066.5 L1337.0,1066.6 L1338.5,1066.7 L1339.9,1066.8 L1341.4,1066.9 L1342.9,1067.0 L1344.4,1067.0 L1345.9,1067.1 L1347.4,1067.2 L1348.9,1067.3 L1350.4,1067.4 L1351.9,1067.5 L1353.4,1067.5 L1354.9,1067.6 L1356.4,1067.7 L1357.9,1067.7 L1359.4,1067.8 L1360.9,1067.9 L1362.4,1067.9 L1363.9,1068.0 L1365.4,1068.0 L1366.9,1068.1 L1368.4,1068.1 L1369.9,1068.2 L1371.4,1068.2 L1372.9,1068.3 L1374.4,1068.3 L1376.0,1068.4 L1377.5,1068.4 L1379.0,1068.4 L1380.5,1068.5 L1382.0,1068.5 L1383.5,1068.5 L1385.0,1068.6 L1386.5,1068.6 L1388.0,1068.6 L1389.5,1068.6 L1391.0,1068.7 L1392.5,1068.7 L1394.0,1068.7 L1395.5,1068.7 L1397.0,1068.8 L1398.5,1068.8 L1400.0,1068.8 L1401.5,1068.8 L1403.0,1068.8 L1404.5,1068.8 L1406.0,1068.8 L1407.5,1068.9 L1409.0,1068.9 L1410.5,1068.9 L1412.0,1068.9 L1413.5,1068.9 L1415.0,1068.9 L1416.5,1068.9 L1418.0,1068.9 L1419.5,1068.9 L1421.0,1068.9 L1422.5,1068.9 L1424.0,1068.9 L1425.5,1068.9 L1427.0,1068.9 L1428.5,1068.9 L1430.0,1068.9 L1431.5,1068.9 L1433.0,1068.9 L1434.5,1068.9 L1436.0,1068.9 L1437.5,1068.9 L1439.0,1069.0 L1440.5,1069.0 L1442.0,1069.0 L1443.5,1069.0 L1445.0,1069.0" stroke="#0000ff"/>
<path d="M86.1,1073.2 L87.3,1072.3 L88.6,1071.5 L89.8,1070.7 L91.1,1069.9 L92.3,1069.1 L93.6,1068.3 L94.9,1067.6 L96.2,1066.8 L97.4,1066.0 L98.7,1065.2 L100.0,1064.4 L101.3,1063.6 L102.6,1062.8 L103.9,1062.0 L105.1,1061.2 L106.4,1060.4 L107.7,1059.6 L108.9,1058.8 L110.2,1058.0 L111.4,1057.1 L112.7,1056.2 L113.9,1055.3 L115.1,1054.5 L116.3,1053.5 L117.4,1052.6 L118.6,1051.6 L119.7,1050.7 L120.8,1049.7 L121.9,1048.6 L123.0,1047.6 L124.1,1046.5 L125.1,1045.5 L126.1,1044.3 L127.1,1043.2 L128.1,1042.1 L129.0,1040.9 L129.9,1039.7 L130.8,1038.5 L131.7,1037.3 L132.6,1036.1 L133.4,1034.8 L134.2,1033.6 L135.0,1032.3 L135.8,1031.0 L136.6,1029.7 L137.3,1028.4 L138.0,1027.1 L138.7,1025.7 L139.4,1024.4 L140.0,1023.0 L140.6,1021.7 L141.2,1020.3 L141.8,1018.9 L142.3,1017.5 L142.9,1016.1 L143.4,1014.7 L143.9,1013.3 L144.3,1011.9 L144.8,1010.5 L145.2,1009.1 L145.6,1007.6 L146.0,1006.2 L146.4,1004.7 L146.8,1003.3 L147.1,1001.8 L147.5,1000.4 L147.8,998.9 L148.1,997.5 L148.4,996.0 L148.7,994.5 L149.0,993.0 L149.2,991.6 L149.5,990.1 L149.8,988.6 L150.0,987.1 L150.2,985.6 L150.5,984.1 L150.7,982.6 L150.9,981.1 L151.1,979.6 L151.4,978.1 L151.6,976.7 L151.8,975.2 L152.0,973.7 L152.2,972.2 L152.4,970.7 L152.6,969.2 L152.8,967.7 L153.0,966.2 L153.2,964.7 L153.4,963.2 L153.6,961.7 L153.8,960.2 L154.0,958.7 L154.2,957.2 L154.4,955.7 L154.6,954.2 L154.8,952.7 L155.0,951.2 L155.2,949.8 L155.4,948.3 L155.6,946.8 L155.7,945.3 L155.9,943.8 L156.1,942.3 L156.3,940.8 L156.5,939.3 L156.6,937.8 L156.8,936.3 L157.0,934.8 L157.2,933.3 L157.3,931.8 L157.5,930.3 L157.6,928.9 L157.8,927.4 L158.0,925.9 L158.1,924.4 L158.3,922.9 L158.4,921.4 L158.6,919.9 L158.7,918.4 L158.9,916.9 L159.0,915.4 L159.1,913.9 L159.3,912.4 L159.4,911.0 L159.6,909.5 L159.7,908.0 L159.8,906.5 L159.9,905.0 L160.1,903.5 L160.2,902.0 L160.3,900.5 L160.4,899.0 L160.6,897.5 L160.7,896.0 L160.8,894.6 L160.9,893.1 L161.0,891.6 L161.1,890.1 L161.2,888.6 L161.4,887.1 L161.5,885.6 L161.6,884.1 L161.7,882.6 L161.8,881.1 L161.9,879.6 L162.0,878.1 L162.1,876.7 L162.2,875.2 L162.3,873.7 L162.3,872.2 L162.4,870.7 L162.5,869.2 L162.6,867.7 L162.7,866.2 L162.8,864.7 L162.9,863.2 L163.0,861.7 L163.1,860.2 L163.1,858.7 L163.2,857.2 L163.3,855.7 L163.4,854.3 L163.5,852.8 L163.5,851.3 L163.6,849.8 L163.7,848.3 L163.8,846.8 L163.8,845.3 L163.9,843.8 L164.0,842.3 L164.1,840.8 L164.1,839.3 L164.2,837.8 L164.3,836.3 L164.4,834.8 L164.4,833.3 L164.5,831.8 L164.6,830.3 L164.6,828.8 L164.7,827.3 L164.8,825.8 L164.8,824.3 L164.9,822.8 L165.0,821.3 L165.0,819.8 L165.1,818.3 L165.2,816.8 L165.2,815.3 L165.3,813.8 L165.4,812.3 L165.4,810.8 L165.5,809.3 L165.6,807.7 L165.6,806.2 L165.7,804.7 L165.7,803.2 L165.8,801.7 L165.9,800.2 L165.9,798.7 L166.0,797.2 L166.1,795.7 L166.1,794.2 L166.2,792.7 L166.3,791.1 L166.3,789.6 L166.4,788.1 L166.5,786.6 L166.5,785.1 L166.6,783.6 L166.7,782.1 L166.7,780.6 L166.8,779.0 L166.9,777.5 L166.9,776.0 L167.0,774.5 L167.1,773.0 L167.1,771.5 L167.2,770.0 L167.3,768.4 L167.3,766.9 L167.4,765.4 L167.5,763.9 L167.5,762.4 L167.6,760.9 L167.7,759.3 L167.8,757.8 L167.8,756.3 L167.9,754.8 L168.0,753.3 L168.0,751.8 L168.1,750.3 L168.2,748.7 L168.3,747.2 L168.3,745.7 L168.4,744.2 L168.5,742.7 L168.5,741.2 L168.6,739.7 L168.7,738.2 L168.8,736.6 L168.8,735.1 L168.9,733.6 L169.0,732.1 L169.1,730.6 L169.1,729.1 L169.2,727.6 L169.3,726.1 L169.4,724.6 L169.4,723.1 L169.5,721.6 L169.6,720.0 L169.7,718.5 L169.7,717.0 L169.8,715.5 L169.9,714.0 L170.0,712.5 L170.1,711.0 L170.1,709.5 L170.2,708.0 L170.3,706.5 L170.4,705.0 L170.5,703.5 L170.6,702.0 L170.6,700.5 L170.7,699.0 L170.8,697.5 L170.9,696.1 L171.0,694.6 L171.1,693.1 L171.1,691.6 L171.2,690.1 L171.3,688.6 L171.4,687.1 L171.5,685.6 L171.6,684.1 L171.7,682.7 L171.8,681.2 L171.8,679.7 L171.9,678.2 L172.0,676.7 L172.1,675.3 L172.2,673.8 L172.3,672.3 L172.4,670.8 L172.5,669.4 L172.6,667.9 L172.7,666.4 L172.8,665.0 L172.9,663.5 L173.0,662.0 L173.1,660.6 L173.1,659.1 L173.2,657.7 L173.3,656.2 L173.4,654.7 L173.5,653.3 L173.6,651.8 L173.7,650.4 L173.8,648.9 L173.9,647.5 L174.0,646.0 L174.2,644.6 L174.3,643.1 L174.4,641.7 L174.5,640.3 L174.6,638.8 L174.7,637.4 L174.8,636.0 L174.9,634.5 L175.0,633.1 L175.1,631.7 L175.2,630.2 L175.3,628.8 L175.4,627.4 L175.6,625.9 L175.7,624.5 L175.8,623.0 L175.9,621.6 L176.0,620.1 L176.1,618.6 L176.2,617.0 L176.4,615.5 L176.5,613.9 L176.6,612.3 L176.7,610.7 L176.9,609.0 L177.0,607.3 L177.1,605.5 L177.2,603.7 L177.4,601.9 L177.5,600.0 L177.6,598.1 L177.8,596.1 L177.9,594.2 L178.1,592.2 L178.2,590.2 L178.4,588.3 L178.5,586.5 L178.7,584.8 L178.8,583.1 L179.0,581.7 L179.1,580.3 L179.3,579.2 L179.5,578.3 L179.6,577.6 L179.8,577.1 L180.0,576.9 L180.2,577.1 L180.3,577.4 L180.5,578.1 L180.7,579.0 L180.9,580.1 L181.1,581.4 L181.3,582.8 L181.5,584.4 L181.7,586.2 L181.8,588.0 L182.0,589.9 L182.2,591.8 L182.4,593.8 L182.6,595.8 L182.7,597.8 L182.9,599.7 L183.1,601.6 L183.2,603.4 L183.4,605.2 L183.5,606.9 L183.7,608.6 L183.8,610.2 L183.9,611.8 L184.1,613.4 L184.2,614.9 L184.3,616.4 L184.4,617.9 L184.5,619.3 L184.6,620.7 L184.8,622.1 L184.9,623.5 L185.0,624.9 L185.1,626.3 L185.2,627.6 L185.3,629.0 L185.4,630.4 L185.5,631.7 L185.6,633.1 L185.7,634.5 L185.8,635.9 L185.9,637.3 L186.0,638.7 L186.1,640.1 L186.2,641.5 L186.2,643.0 L186.3,644.4 L186.4,645.8 L186.5,647.3 L186.6,648.7 L186.7,650.2 L186.8,651.7 L186.9,653.1 L187.0,654.6 L187.1,656.1 L187.1,657.5 L187.2,659.0 L187.3,660.5 L187.4,662.0 L187.5,663.5 L187.6,665.0 L187.7,666.5 L187.7,668.0 L187.8,669.5 L187.9,671.0 L188.0,672.6 L188.1,674.1 L188.2,675.6 L188.2,677.1 L188.3,678.6 L188.4,680.2 L188.5,681.7 L188.6,683.2 L188.6,684.8 L188.7,686.3 L188.8,687.8 L188.9,689.3 L189.0,690.9 L189.0,692.4 L189.1,693.9 L189.2,695.5 L189.3,697.0 L189.3,698.5 L189.4,700.1 L189.5,701.6 L189.6,703.1 L189.6,704.7 L189.7,706.2 L189.8,707.7 L189.9,709.2 L189.9,710.8 L190.0,712.3 L190.1,713.8 L190.2,715.3 L190.2,716.9 L190.3,718.4 L190.4,719.9 L190.5,721.4 L190.5,723.0 L190.6,724.5 L190.7,726.0 L190.7,727.5 L190.8,729.0 L190.9,730.5 L191.0,732.1 L191.0,733.6 L191.1,735.1 L191.2,736.6 L191.2,738.1 L191.3,739.6 L191.4,741.1 L191.5,742.6 L191.5,744.2 L191.6,745.7 L191.7,747.2 L191.7,748.7 L191.8,750.2 L191.9,751.7 L192.0,753.2 L192.0,754.7 L192.1,756.2 L192.2,757.7 L192.3,759.2 L192.3,760.7 L192.4,762.2 L192.5,763.7 L192.5,765.3 L192.6,766.8 L192.7,768.3 L192.8,769.8 L192.8,771.3 L192.9,772.8 L193.0,774.3 L193.1,775.8 L193.1,777.3 L193.2,778.8 L193.3,780.3 L193.4,781.8 L193.5,783.3 L193.5,784.8 L193.6,786.3 L193.7,787.7 L193.8,789.2 L193.8,790.7 L193.9,792.2 L194.0,793.7 L194.1,795.2 L194.2,796.7 L194.3,798.2 L194.3,799.7 L194.4,801.2 L194.5,802.7 L194.6,804.2 L194.7,805.7 L194.8,807.2 L194.8,808.7 L194.9,810.2 L195.0,811.7 L195.1,813.2 L195.2,814.6 L195.3,816.1 L195.4,817.6 L195.5,819.1 L195.5,820.6 L195.6,822.1 L195.7,823.6 L195.8,825.1 L195.9,826.6 L196.0,828.1 L196.1,829.6 L196.2,831.0 L196.3,832.5 L196.4,834.0 L196.5,835.5 L196.6,837.0 L196.7,838.5 L196.8,840.0 L196.9,841.5 L197.0,843.0 L197.1,844.4 L197.2,845.9 L197.3,847.4 L197.4,848.9 L197.5,850.4 L197.6,851.9 L197.7,853.4 L197.8,854.9 L197.9,856.4 L198.1,857.9 L198.2,859.3 L198.3,860.8 L198.4,862.3 L198.5,863.8 L198.6,865.3 L198.7,866.8 L198.9,868.3 L199.0,869.8 L199.1,871.3 L199.2,872.7 L199.3,874.2 L199.5,875.7 L199.6,877.2 L199.7,878.7 L199.9,880.2 L200.0,881.7 L200.1,883.2 L200.2,884.7 L200.4,886.2 L200.5,887.7 L200.6,889.1 L200.8,890.6 L200.9,892.1 L201.1,893.6 L201.2,895.1 L201.3,896.6 L201.5,898.1 L201.6,899.6 L201.8,901.1 L201.9,902.6 L202.1,904.1 L202.2,905.6 L202.4,907.1 L202.5,908.6 L202.7,910.0 L202.8,911.5 L203.0,913.0 L203.1,914.5 L203.3,916.0 L203.5,917.5 L203.6,919.0 L203.8,920.5 L203.9,922.0 L204.1,923.5 L204.3,925.0 L204.4,926.5 L204.6,928.0 L204.8,929.5 L205.0,931.0 L205.1,932.5 L205.3,934.0 L205.5,935.5 L205.7,937.0 L205.9,938.5 L206.1,940.0 L206.2,941.5 L206.4,943.0 L206.6,944.5 L206.8,946.0 L207.0,947.5 L207.2,949.0 L207.5,950.5 L207.7,952.0 L207.9,953.5 L208.1,955.0 L208.3,956.5 L208.6,958.0 L208.8,959.5 L209.0,961.0 L209.3,962.4 L209.5,963.9 L209.8,965.4 L210.1,966.9 L210.3,968.4 L210.6,969.9 L210.9,971.3 L211.2,972.8 L211.5,974.3 L211.8,975.7 L212.1,977.2 L212.4,978.7 L212.7,980.1 L213.1,981.6 L213.4,983.0 L213.7,984.5 L214.1,986.0 L214.5,987.4 L214.8,988.8 L215.2,990.3 L215.6,991.7 L216.0,993.2 L216.4,994.6 L216.8,996.0 L217.2,997.4 L217.7,998.9 L218.1,1000.3 L218.6,1001.7 L219.1,1003.1 L219.5,1004.5 L220.0,1005.9 L220.5,1007.3 L221.0,1008.7 L221.6,1010.1 L222.1,1011.5 L222.7,1012.9 L223.3,1014.3 L223.8,1015.6 L224.4,1017.0 L225.1,1018.4 L225.7,1019.8 L226.3,1021.2 L227.0,1022.5 L227.7,1023.9 L228.4,1025.3 L229.1,1026.6 L229.8,1028.0 L230.6,1029.3 L231.4,1030.6 L232.2,1031.9 L233.0,1033.3 L233.8,1034.5 L234.6,1035.8 L235.5,1037.1 L236.4,1038.3 L237.3,1039.6 L238.2,1040.8 L239.2,1041.9 L240.1,1043.1 L241.1,1044.2 L242.1,1045.3 L243.1,1046.4 L244.2,1047.5 L245.3,1048.5 L246.4,1049.5 L247.5,1050.4 L248.6,1051.4 L249.8,1052.2 L251.0,1053.1 L252.2,1053.9 L253.5,1054.7 L254.7,1055.4 L256.0,1056.1 L257.4,1056.8 L258.7,1057.4 L260.1,1057.9 L261.5,1058.4 L262.9,1058.9 L264.3,1059.3 L265.8,1059.7 L267.3,1060.0 L268.8,1060.3 L270.3,1060.6 L271.8,1060.9 L273.3,1061.2 L274.9,1061.6 L276.4,1061.9 L277.8,1062.3 L279.3,1062.7 L280.8,1063.2 L282.2,1063.7 L283.6,1064.3 L285.0,1064.8 L286.4,1065.4 L287.8,1066.0 L289.2,1066.6 L290.6,1067.2 L292.0,1067.7 L293.4,1068.3 L294.8,1068.8 L296.2,1069.3 L297.6,1069.7 L299.0,1070.2 L300.4,1070.7 L301.9,1071.1 L303.3,1071.5 L304.7,1071.9 L306.2,1072.3 L307.6,1072.6 L309.1,1073.0 L310.5,1073.3 L312.0,1073.6 L313.4,1073.9 L314.9,1074.2 L316.4,1074.5 L317.8,1074.7 L319.3,1075.0 L320.8,1075.2 L322.2,1075.4 L323.7,1075.6 L325.2,1075.8 L326.7,1076.0 L328.2,1076.2 L329.6,1076.4 L331.1,1076.5 L332.6,1076.6 L334.1,1076.8 L335.6,1076.9 L337.1,1077.0 L338.6,1077.1 L340.1,1077.2 L341.6,1077.3 L343.1,1077.4 L344.6,1077.4 L346.1,1077.5 L347.6,1077.6 L349.1,1077.6 L350.6,1077.7 L352.2,1077.7 L353.7,1077.7 L355.2,1077.7 L356.7,1077.8 L358.2,1077.8 L359.7,1077.8 L361.2,1077.8 L362.7,1077.8 L364.2,1077.8 L365.7,1077.8 L367.3,1077.8 L368.8,1077.8 L370.3,1077.8 L371.8,1077.8 L373.3,1077.8 L374.8,1077.8 L376.3,1077.8 L377.8,1077.7 L379.3,1077.7 L380.8,1077.7 L382.3,1077.7 L383.8,1077.7 L385.3,1077.6 L386.8,1077.6 L388.3,1077.6 L389.8,1077.6 L391.3,1077.5 L392.8,1077.5 L394.3,1077.5 L395.8,1077.4 L397.3,1077.4 L398.8,1077.4 L400.3,1077.3 L401.8,1077.3 L403.3,1077.3 L404.8,1077.2 L406.3,1077.2 L407.8,1077.2 L409.3,1077.1 L410.8,1077.1 L412.3,1077.0 L413.8,1077.0 L415.3,1076.9 L416.8,1076.9 L418.3,1076.9 L419.8,1076.8 L421.3,1076.8 L422.8,1076.7 L424.3,1076.7 L425.8,1076.6 L427.3,1076.6 L428.8,1076.5 L430.3,1076.5 L431.8,1076.4 L433.3,1076.4 L434.8,1076.3 L436.3,1076.3 L437.8,1076.2 L439.3,1076.2 L440.8,1076.1 L442.2,1076.1 L443.7,1076.0 L445.2,1076.0 L446.7,1075.9 L448.2,1075.9 L449.7,1075.8 L451.2,1075.8 L452.7,1075.7 L454.2,1075.7 L455.7,1075.6 L457.2,1075.6 L458.7,1075.5 L460.2,1075.4 L461.7,1075.4 L463.2,1075.3 L464.7,1075.3 L466.2,1075.2 L467.7,1075.2 L469.2,1075.1 L470.7,1075.1 L472.2,1075.0 L473.7,1075.0 L475.2,1074.9 L476.7,1074.9 L478.2,1074.9 L479.7,1074.8 L481.2,1074.8 L482.7,1074.7 L484.2,1074.7 L485.7,1074.6 L487.2,1074.6 L488.7,1074.5 L490.2,1074.5 L491.7,1074.5 L493.2,1074.4 L494.7,1074.4 L496.2,1074.3 L497.7,1074.3 L499.2,1074.3 L500.7,1074.2 L502.2,1074.2 L503.7,1074.2 L505.2,1074.1 L506.7,1074.1 L508.3,1074.1 L509.8,1074.0 L511.3,1074.0 L512.8,1074.0 L514.3,1074.0 L515.8,1073.9 L517.3,1073.9 L518.8,1073.9 L520.3,1073.9 L521.9,1073.8 L523.4,1073.8 L524.9,1073.8 L526.4,1073.7 L527.9,1073.7 L529.4,1073.7 L530.9,1073.7 L532.4,1073.6 L534.0,1073.6 L535.5,1073.6 L537.0,1073.5 L538.5,1073.5 L540.0,1073.4 L541.5,1073.4 L543.0,1073.3 L544.5,1073.3 L546.0,1073.2 L547.5,1073.2 L549.1,1073.1 L550.6,1073.1 L552.1,1073.0 L553.6,1072.9 L555.1,1072.8 L556.6,1072.8 L558.1,1072.7 L559.6,1072.6 L561.1,1072.5 L562.6,1072.4 L564.1,1072.3 L565.6,1072.2 L567.1,1072.1 L568.6,1072.0 L570.1,1071.8 L571.6,1071.7 L573.1,1071.6 L574.5,1071.4 L576.0,1071.3 L577.5,1071.1 L579.0,1071.0 L580.5,1070.8 L582.0,1070.6 L583.5,1070.5 L584.9,1070.3 L586.4,1070.1 L587.9,1069.9 L589.4,1069.7 L590.8,1069.5 L592.3,1069.2 L593.8,1069.0 L595.2,1068.8 L596.7,1068.5 L598.2,1068.3 L599.6,1068.0 L601.1,1067.7 L602.5,1067.4 L604.0,1067.1 L605.4,1066.8 L606.9,1066.5 L608.3,1066.2 L609.8,1065.9 L611.2,1065.5 L612.7,1065.2 L614.1,1064.8 L615.5,1064.4 L617.0,1064.0 L618.4,1063.6 L619.9,1063.2 L621.3,1062.8 L622.7,1062.4 L624.1,1061.9 L625.6,1061.5 L627.0,1061.0 L628.4,1060.5 L629.8,1060.0 L631.3,1059.5 L632.7,1059.0 L634.1,1058.5 L635.5,1058.0 L636.9,1057.4 L638.3,1056.8 L639.7,1056.2 L641.2,1055.6 L642.6,1055.0 L644.0,1054.4 L645.4,1053.8 L646.8,1053.1 L648.2,1052.4 L649.6,1051.7 L651.0,1051.0 L652.4,1050.3 L653.8,1049.7 L655.2,1049.0 L656.6,1048.4 L658.0,1047.8 L659.4,1047.3 L660.8,1046.9 L662.3,1046.6 L663.7,1046.3 L665.1,1046.2 L666.5,1046.2 L668.0,1046.3 L669.4,1046.6 L670.8,1046.9 L672.3,1047.3 L673.7,1047.8 L675.1,1048.4 L676.6,1049.0 L678.0,1049.6 L679.4,1050.2 L680.8,1050.9 L682.2,1051.5 L683.6,1052.2 L685.0,1052.8 L686.4,1053.5 L687.8,1054.1 L689.2,1054.7 L690.6,1055.4 L691.9,1056.0 L693.3,1056.6 L694.7,1057.2 L696.0,1057.8 L697.4,1058.3 L698.8,1058.9 L700.1,1059.5 L701.5,1060.0 L702.9,1060.5 L704.2,1061.0 L705.6,1061.5 L707.0,1062.0 L708.4,1062.5 L709.8,1062.9 L711.2,1063.3 L712.6,1063.7 L714.0,1064.1 L715.5,1064.5 L716.9,1064.8 L718.4,1065.2 L719.8,1065.5 L721.3,1065.7 L722.8,1066.0 L724.3,1066.2 L725.8,1066.4 L727.3,1066.6 L728.8,1066.8 L730.4,1067.0 L731.9,1067.1 L733.4,1067.2 L735.0,1067.3 L736.5,1067.4 L738.1,1067.5 L739.6,1067.6 L741.2,1067.7 L742.7,1067.7 L744.2,1067.8 L745.7,1067.9 L747.3,1067.9 L748.8,1068.0 L750.3,1068.0 L751.8,1068.1 L753.3,1068.1 L754.8,1068.1 L756.3,1068.2 L757.8,1068.2 L759.3,1068.2 L760.8,1068.2 L762.2,1068.2 L763.7,1068.2 L765.2,1068.3 L766.7,1068.3 L768.2,1068.3 L769.6,1068.3 L771.1,1068.3 L772.6,1068.3 L774.1,1068.3 L775.5,1068.2 L777.0,1068.2 L778.5,1068.2 L779.9,1068.2 L781.4,1068.2 L782.9,1068.2 L784.4,1068.2 L785.9,1068.1 L787.3,1068.1 L788.8,1068.1 L790.3,1068.1 L791.8,1068.0 L793.3,1068.0 L794.8,1068.0 L796.3,1067.9 L797.8,1067.9 L799.3,1067.9 L800.8,1067.8 L802.3,1067.8 L803.8,1067.8 L805.3,1067.7 L806.9,1067.7 L808.4,1067.7 L809.9,1067.6 L811.5,1067.6 L813.0,1067.6 L814.6,1067.5 L816.1,1067.5 L817.7,1067.4 L819.2,1067.3 L820.8,1067.2 L822.3,1067.2 L823.8,1067.1 L825.4,1066.9 L826.9,1066.8 L828.4,1066.7 L829.9,1066.5 L831.5,1066.3 L833.0,1066.1 L834.5,1065.9 L835.9,1065.7 L837.4,1065.4 L838.9,1065.1 L840.3,1064.8 L841.7,1064.5 L843.2,1064.1 L844.6,1063.7 L845.9,1063.3 L847.3,1062.8 L848.7,1062.4 L850.0,1061.8 L851.3,1061.3 L852.6,1060.7 L853.9,1060.1 L855.2,1059.5 L856.5,1058.8 L857.7,1058.1 L859.0,1057.4 L860.3,1056.7 L861.5,1055.9 L862.8,1055.2 L864.1,1054.4 L865.4,1053.6 L866.7,1052.8 L868.0,1052.0 L869.4,1051.2 L870.7,1050.4 L872.1,1049.5 L873.5,1048.7 L874.9,1048.0 L876.3,1047.2 L877.7,1046.4 L879.1,1045.7 L880.6,1045.0 L882.0,1044.4 L883.4,1043.8 L884.9,1043.2 L886.3,1042.7 L887.8,1042.3 L889.2,1041.9 L890.6,1041.5 L892.0,1041.3 L893.5,1041.1 L894.9,1041.0 L896.3,1041.0 L897.7,1041.0 L899.1,1041.2 L900.5,1041.4 L901.8,1041.7 L903.2,1042.1 L904.5,1042.5 L905.9,1043.1 L907.2,1043.6 L908.6,1044.2 L909.9,1044.9 L911.2,1045.6 L912.6,1046.4 L913.9,1047.1 L915.2,1047.9 L916.5,1048.7 L917.9,1049.6 L919.2,1050.4 L920.5,1051.2 L921.9,1052.0 L923.2,1052.9 L924.6,1053.7 L925.9,1054.4 L927.3,1055.2 L928.7,1055.9 L930.1,1056.6 L931.5,1057.3 L932.9,1057.9 L934.3,1058.4 L935.7,1059.0 L937.1,1059.4 L938.6,1059.9 L940.0,1060.3 L941.5,1060.7 L942.9,1061.1 L944.4,1061.4 L945.9,1061.7 L947.3,1062.0 L948.8,1062.2 L950.3,1062.4 L951.8,1062.7 L953.3,1062.9 L954.7,1063.0 L956.2,1063.2 L957.7,1063.4 L959.2,1063.5 L960.7,1063.7 L962.2,1063.8 L963.7,1063.9 L965.2,1064.0 L966.6,1064.1 L968.1,1064.2 L969.6,1064.3 L971.1,1064.4 L972.6,1064.4 L974.1,1064.5 L975.6,1064.5 L977.0,1064.6 L978.5,1064.6 L980.0,1064.6 L981.5,1064.7 L983.0,1064.7 L984.5,1064.7 L986.0,1064.7 L987.4,1064.7 L988.9,1064.7 L990.4,1064.7 L991.9,1064.7 L993.4,1064.6 L994.9,1064.6 L996.4,1064.6 L997.9,1064.5 L999.4,1064.5 L1000.8,1064.4 L1002.3,1064.4 L1003.8,1064.3 L1005.3,1064.2 L1006.8,1064.2 L1008.3,1064.1 L1009.8,1064.0 L1011.3,1063.9 L1012.8,1063.8 L1014.3,1063.8 L1015.8,1063.7 L1017.3,1063.6 L1018.8,1063.5 L1020.3,1063.4 L1021.8,1063.3 L1023.3,1063.2 L1024.8,1063.1 L1026.3,1063.0 L1027.8,1062.8 L1029.4,1062.7 L1030.9,1062.6 L1032.4,1062.5 L1033.9,1062.4 L1035.4,1062.3 L1036.9,1062.2 L1038.5,1062.0 L1040.0,1061.9 L1041.5,1061.8 L1043.0,1061.7 L1044.6,1061.6 L1046.1,1061.4 L1047.6,1061.3 L1049.2,1061.2 L1050.7,1061.0 L1052.2,1060.9 L1053.7,1060.7 L1055.2,1060.6 L1056.8,1060.4 L1058.3,1060.2 L1059.8,1060.0 L1061.3,1059.8 L1062.8,1059.6 L1064.3,1059.4 L1065.8,1059.2 L1067.3,1058.9 L1068.7,1058.6 L1070.2,1058.3 L1071.7,1058.0 L1073.1,1057.7 L1074.5,1057.3 L1076.0,1057.0 L1077.4,1056.6 L1078.8,1056.2 L1080.2,1055.7 L1081.6,1055.3 L1083.0,1054.8 L1084.4,1054.3 L1085.7,1053.7 L1087.1,1053.2 L1088.4,1052.6 L1089.7,1051.9 L1091.0,1051.3 L1092.3,1050.6 L1093.5,1049.9 L1094.8,1049.1 L1096.0,1048.3 L1097.3,1047.5 L1098.5,1046.7 L1099.6,1045.8 L1100.8,1044.8 L1101.9,1043.9 L1103.1,1042.9 L1104.2,1041.8 L1105.3,1040.8 L1106.4,1039.7 L1107.4,1038.6 L1108.5,1037.4 L1109.6,1036.3 L1110.6,1035.1 L1111.6,1033.9 L1112.6,1032.7 L1113.7,1031.5 L1114.7,1030.3 L1115.7,1029.1 L1116.7,1027.9 L1117.7,1026.7 L1118.7,1025.5 L1119.7,1024.3 L1120.7,1023.2 L1121.8,1022.1 L1122.9,1021.1 L1124.0,1020.1 L1125.2,1019.2 L1126.4,1018.4 L1127.7,1017.7 L1129.0,1017.1 L1130.3,1016.7 L1131.7,1016.4 L1133.1,1016.2 L1134.4,1016.3 L1135.8,1016.5 L1137.2,1016.8 L1138.5,1017.3 L1139.9,1017.9 L1141.2,1018.6 L1142.5,1019.3 L1143.7,1020.1 L1145.0,1020.9 L1146.2,1021.8 L1147.4,1022.7 L1148.6,1023.7 L1149.8,1024.6 L1151.0,1025.6 L1152.1,1026.6 L1153.3,1027.5 L1154.5,1028.5 L1155.7,1029.5 L1156.8,1030.5 L1158.0,1031.5 L1159.2,1032.5 L1160.4,1033.4 L1161.6,1034.4 L1162.7,1035.4 L1163.9,1036.4 L1165.1,1037.3 L1166.3,1038.3 L1167.5,1039.3 L1168.7,1040.2 L1169.9,1041.1 L1171.1,1042.1 L1172.3,1043.0 L1173.6,1043.9 L1174.8,1044.8 L1176.0,1045.7 L1177.3,1046.5 L1178.5,1047.4 L1179.7,1048.2 L1181.0,1049.1 L1182.3,1049.9 L1183.5,1050.6 L1184.8,1051.4 L1186.1,1052.2 L1187.4,1052.9 L1188.7,1053.6 L1190.0,1054.3 L1191.3,1054.9 L1192.7,1055.5 L1194.0,1056.1 L1195.4,1056.7 L1196.7,1057.3 L1198.1,1057.8 L1199.5,1058.3 L1200.9,1058.8 L1202.3,1059.2 L1203.7,1059.6 L1205.1,1060.0 L1206.6,1060.3 L1208.0,1060.7 L1209.5,1061.0 L1210.9,1061.3 L1212.4,1061.5 L1213.9,1061.8 L1215.4,1062.0 L1216.9,1062.2 L1218.4,1062.4 L1219.9,1062.6 L1221.4,1062.8 L1222.9,1062.9 L1224.4,1063.1 L1225.9,1063.2 L1227.5,1063.4 L1229.0,1063.5 L1230.5,1063.6 L1232.0,1063.7 L1233.6,1063.8 L1235.1,1064.0 L1236.6,1064.1 L1238.1,1064.2 L1239.6,1064.3 L1241.2,1064.5 L1242.7,1064.6 L1244.2,1064.7 L1245.7,1064.9 L1247.2,1065.1 L1248.7,1065.2 L1250.2,1065.4 L1251.7,1065.5 L1253.2,1065.7 L1254.7,1065.9 L1256.2,1066.1 L1257.7,1066.3 L1259.2,1066.5 L1260.7,1066.6 L1262.2,1066.8 L1263.7,1067.0 L1265.2,1067.2 L1266.7,1067.4 L1268.1,1067.6 L1269.6,1067.8 L1271.1,1068.0 L1272.6,1068.2 L1274.1,1068.4 L1275.6,1068.6 L1277.0,1068.8 L1278.5,1068.9 L1280.0,1069.1 L1281.5,1069.3 L1283.0,1069.5 L1284.5,1069.6 L1285.9,1069.8 L1287.4,1070.0 L1288.9,1070.1 L1290.4,1070.3 L1291.9,1070.4 L1293.4,1070.5 L1294.9,1070.7 L1296.3,1070.8 L1297.8,1070.9 L1299.3,1071.0 L1300.8,1071.1 L1302.3,1071.2 L1303.8,1071.3 L1305.3,1071.4 L1306.8,1071.4 L1308.3,1071.5 L1309.8,1071.6 L1311.3,1071.6 L1312.8,1071.7 L1314.3,1071.8 L1315.8,1071.8 L1317.3,1071.9 L1318.8,1071.9 L1320.3,1071.9 L1321.8,1072.0 L1323.3,1072.0 L1324.8,1072.0 L1326.3,1072.1 L1327.8,1072.1 L1329.3,1072.1 L1330.8,1072.1 L1332.3,1072.1 L1333.9,1072.2 L1335.4,1072.2 L1336.9,1072.2 L1338.4,1072.2 L1339.9,1072.2 L1341.4,1072.3 L1342.9,1072.3 L1344.4,1072.3 L1345.9,1072.3 L1347.4,1072.3 L1348.9,1072.3 L1350.4,1072.4 L1351.9,1072.4 L1353.4,1072.4 L1354.9,1072.4 L1356.4,1072.4 L1357.9,1072.5 L1359.4,1072.5 L1360.9,1072.5 L1362.4,1072.5 L1363.9,1072.6 L1365.4,1072.6 L1366.9,1072.6 L1368.4,1072.7 L1369.9,1072.7 L1371.4,1072.7 L1372.9,1072.7 L1374.4,1072.8 L1375.9,1072.8 L1377.4,1072.8 L1378.9,1072.8 L1380.4,1072.9 L1381.9,1072.9 L1383.4,1072.9 L1384.9,1073.0 L1386.4,1073.0 L1387.9,1073.0 L1389.4,1073.0 L1390.9,1073.1 L1392.4,1073.1 L1393.9,1073.1 L1395.4,1073.2 L1396.9,1073.2 L1398.4,1073.2 L1399.9,1073.2 L1401.4,1073.3 L1402.9,1073.3 L1404.4,1073.3 L1405.9,1073.3 L1407.4,1073.4 L1408.9,1073.4 L1410.4,1073.4 L1411.9,1073.4 L1413.4,1073.4 L1414.9,1073.5 L1416.5,1073.5 L1418.0,1073.5 L1419.5,1073.5 L1421.0,1073.5 L1422.5,1073.5 L1424.0,1073.6 L1425.5,1073.6 L1427.0,1073.6 L1428.5,1073.6 L1430.0,1073.6 L1431.5,1073.6 L1433.0,1073.6 L1434.5,1073.6 L1436.0,1073.6 L1437.5,1073.6 L1439.0,1073.6 L1440.5,1073.6 L1442.0,1073.6 L1443.5,1073.6 L1445.0,1073.6" stroke="#1aff00"/>
</g>
<line x1="182.0" y1="50.0" x2="176.5" y2="1042.0" stroke="#000" stroke-width="2.6" stroke-dasharray="3 5.6"/>
<line x1="670.2" y1="864.6" x2="670.2" y2="1074.6" stroke="#000" stroke-width="2.6" stroke-dasharray="3 5.6"/>
<line x1="897.4" y1="838.8" x2="897.4" y2="1066.0" stroke="#000" stroke-width="2.6" stroke-dasharray="3 5.6"/>
<line x1="1135.9" y1="683.5" x2="1135.9" y2="1067.7" stroke="#000" stroke-width="2.6" stroke-dasharray="3 5.6"/>
<rect x="92.5" y="3.5" width="1351.1" height="1094" fill="none" stroke="#000" stroke-width="9"/>
<rect x="88.00" y="1097" width="9" height="22.3" fill="#000"/>
<rect x="281.00" y="1097" width="9" height="22.3" fill="#000"/>
<rect x="474.00" y="1097" width="9" height="22.3" fill="#000"/>
<rect x="667.00" y="1097" width="9" height="22.3" fill="#000"/>
<rect x="860.00" y="1097" width="9" height="22.3" fill="#000"/>
<rect x="1053.00" y="1097" width="9" height="22.3" fill="#000"/>
<rect x="1246.00" y="1097" width="9" height="22.3" fill="#000"/>
<rect x="1439.00" y="1097" width="9" height="22.3" fill="#000"/>
<rect x="184.70" y="1097" width="8.6" height="11.5" fill="#000"/>
<rect x="377.70" y="1097" width="8.6" height="11.5" fill="#000"/>
<rect x="570.70" y="1097" width="8.6" height="11.5" fill="#000"/>
<rect x="763.70" y="1097" width="8.6" height="11.5" fill="#000"/>
<rect x="956.70" y="1097" width="8.6" height="11.5" fill="#000"/>
<rect x="1149.70" y="1097" width="8.6" height="11.5" fill="#000"/>
<rect x="1342.70" y="1097" width="8.6" height="11.5" fill="#000"/>
<g transform="translate(35.39 1171.67) scale(1.1150 1)"><text x="35.13 70.26" y="0" font-size="54.24" stroke-width="3.80">00</text><path d="M860,0 L610,0 L610,985 C510,900 350,835 160,790 L160,1010 C330,1050 520,1160 630,1409 L860,1409 Z" transform="translate(0.00 0) scale(0.02648 -0.02648)" stroke-width="143.5" stroke="#000" stroke-linejoin="round"/></g>
<g transform="translate(231.02 1171.67) scale(1.1150 1)"><text x="0.00 33.95 67.90" y="0" font-size="54.24" stroke-width="3.80">200</text></g>
<g transform="translate(424.73 1171.59) scale(1.1150 1)"><text x="0.00 33.66 67.32" y="0" font-size="54.12" stroke-width="3.80">300</text></g>
<g transform="translate(618.20 1171.67) scale(1.1150 1)"><text x="0.00 33.42 66.84" y="0" font-size="54.24" stroke-width="3.80">400</text></g>
<g transform="translate(810.26 1171.67) scale(1.1150 1)"><text x="0.00 33.84 67.69" y="0" font-size="54.24" stroke-width="3.80">500</text></g>
<g transform="translate(1002.90 1171.67) scale(1.1150 1)"><text x="0.00 34.00 68.00" y="0" font-size="54.24" stroke-width="3.80">600</text></g>
<g transform="translate(1195.52 1171.67) scale(1.1150 1)"><text x="0.00 34.17 68.35" y="0" font-size="54.24" stroke-width="3.80">700</text></g>
<g transform="translate(1389.20 1171.67) scale(1.1150 1)"><text x="0.00 33.87 67.74" y="0" font-size="54.24" stroke-width="3.80">800</text></g>
<g transform="translate(486.13 1255.75) scale(1.0500 1)"><text x="0.00 43.41 77.76 130.27 164.63 201.96 221.15 255.51 292.85 312.03 334.23 356.42 375.61 397.80 432.16" y="0" font-size="54.51" stroke-width="4.50">Raman shift (cm</text></g>
<rect x="992.7" y="1220" width="10.6" height="6" fill="#000"/>
<g transform="translate(1008.99 1232.75) scale(0.8934 1)"><path d="M860,0 L610,0 L610,985 C510,900 350,835 160,790 L160,1010 C330,1050 520,1160 630,1409 L860,1409 Z" transform="translate(0.00 0) scale(0.01803 -0.01803)" stroke-width="194.2" stroke="#000" stroke-linejoin="round"/></g>
<g transform="translate(1033.47 1255.75) scale(0.8500 1)"><text x="0.00" y="0" font-size="54.51" stroke-width="4.50">)</text></g>
<g transform="rotate(-90)"><g transform="translate(-684.56 39.00) scale(1.1200 1)"><text x="0.00 18.22 53.08 74.05 106.18 141.04 173.17 191.38 212.36" y="0" font-size="49.97" stroke-width="4.80">Intensity</text></g></g>
<g transform="translate(118.06 41.30) scale(0.9711 1)"><text x="0.00" y="0" font-size="39.83" stroke-width="3.40">E</text></g>
<g transform="translate(147.24 51.15) scale(1.1131 1)"><text x="0.00" y="0" font-size="36.11" stroke-width="3.40">g</text></g>
<g transform="translate(174.77 41.76) scale(1.0000 1)"><text x="0.00 43.06" y="0" font-size="38.73" stroke-width="3.40">()</text><path d="M860,0 L610,0 L610,985 C510,900 350,835 160,790 L160,1010 C330,1050 520,1160 630,1409 L860,1409 Z" transform="translate(17.21 0) scale(0.01891 -0.01891)" stroke-width="179.8" stroke="#000" stroke-linejoin="round"/></g>
<g transform="translate(571.38 839.20) scale(1.0524 1)"><text x="0.00" y="0" font-size="38.52" stroke-width="3.40">B</text></g>
<g transform="translate(603.34 849.30) scale(1.0168 1)"><path d="M860,0 L610,0 L610,985 C510,900 350,835 160,790 L160,1010 C330,1050 520,1160 630,1409 L860,1409 Z" transform="translate(0.00 0) scale(0.01959 -0.01959)" stroke-width="173.6" stroke="#000" stroke-linejoin="round"/></g>
<g transform="translate(631.22 850.03) scale(1.1132 1)"><text x="0.00" y="0" font-size="36.64" stroke-width="3.40">g</text></g>
<g transform="translate(658.27 840.04) scale(1.0000 1)"><text x="0.00 43.04" y="0" font-size="38.84" stroke-width="3.40">()</text><path d="M860,0 L610,0 L610,985 C510,900 350,835 160,790 L160,1010 C330,1050 520,1160 630,1409 L860,1409 Z" transform="translate(17.18 0) scale(0.01896 -0.01896)" stroke-width="179.3" stroke="#000" stroke-linejoin="round"/></g>
<g transform="translate(788.21 819.90) scale(1.1009 1)"><text x="0.00" y="0" font-size="38.66" stroke-width="3.40">A</text></g>
<g transform="translate(820.74 830.20) scale(1.0524 1)"><path d="M860,0 L610,0 L610,985 C510,900 350,835 160,790 L160,1010 C330,1050 520,1160 630,1409 L860,1409 Z" transform="translate(0.00 0) scale(0.01930 -0.01930)" stroke-width="176.1" stroke="#000" stroke-linejoin="round"/></g>
<g transform="translate(848.01 830.51) scale(1.1052 1)"><text x="0.00" y="0" font-size="36.78" stroke-width="3.40">g</text></g>
<g transform="translate(876.23 819.53) scale(0.9765 1)"><text x="0.00" y="0" font-size="39.78" stroke-width="3.40">+</text></g>
<g transform="translate(916.06 819.90) scale(1.0564 1)"><text x="0.00" y="0" font-size="38.66" stroke-width="3.40">B</text></g>
<g transform="translate(947.94 830.30) scale(1.0168 1)"><path d="M860,0 L610,0 L610,985 C510,900 350,835 160,790 L160,1010 C330,1050 520,1160 630,1409 L860,1409 Z" transform="translate(0.00 0) scale(0.01959 -0.01959)" stroke-width="173.6" stroke="#000" stroke-linejoin="round"/></g>
<g transform="translate(975.71 830.51) scale(1.0870 1)"><text x="0.00" y="0" font-size="36.78" stroke-width="3.40">g</text></g>
<g transform="translate(1002.83 820.51) scale(1.0000 1)"><text x="0.00 18.08 44.54" y="0" font-size="37.55" stroke-width="3.40">(2)</text></g>
<g transform="translate(1109.08 649.90) scale(0.9773 1)"><text x="0.00" y="0" font-size="39.54" stroke-width="3.40">E</text></g>
<g transform="translate(1138.23 660.19) scale(1.1017 1)"><text x="0.00" y="0" font-size="36.38" stroke-width="3.40">g</text></g>
<g transform="translate(1165.80 650.30) scale(1.0000 1)"><text x="0.00 17.46 43.41" y="0" font-size="38.08" stroke-width="3.40">(2)</text></g>
<rect x="1048" y="42.4" width="350" height="289.2" fill="none" stroke="#000" stroke-width="2"/>
<line x1="1054" y1="76.4" x2="1168" y2="76.4" stroke="#000" stroke-width="11.5" stroke-linecap="round"/>
<line x1="1054" y1="147.9" x2="1168" y2="147.9" stroke="#ff0000" stroke-width="11.5" stroke-linecap="round"/>
<line x1="1054" y1="219.4" x2="1168" y2="219.4" stroke="#0000ff" stroke-width="11.5" stroke-linecap="round"/>
<line x1="1054" y1="290.9" x2="1168" y2="290.9" stroke="#1aff00" stroke-width="11.5" stroke-linecap="round"/>
<g transform="translate(1182.93 92.00) scale(1.0000 1)"><text x="0.00 30.10 57.95 76.95 102.62 117.16 145.02 159.56" y="0" font-size="39.97" stroke-width="3.00">Pure TiO</text></g>
<g transform="translate(1376.81 103.30) scale(1.1100 1)"><text x="0.00" y="0" font-size="26.64" stroke-width="2.40">2</text></g>
<g transform="translate(1183.34 163.70) scale(1.0000 1)"><text x="0.00 27.70 41.80" y="0" font-size="40.84" stroke-width="3.00">TiO</text></g>
<g transform="translate(1260.13 174.70) scale(1.1453 1)"><text x="0.00" y="0" font-size="26.21" stroke-width="2.40">2</text></g>
<g transform="translate(1278.60 163.70) scale(1.0000 1)"><text x="0.00 12.74 43.62 69.96" y="0" font-size="40.84" stroke-width="3.00">/Cu-</text><path d="M860,0 L610,0 L610,985 C510,900 350,835 160,790 L160,1010 C330,1050 520,1160 630,1409 L860,1409 Z" transform="translate(84.95 0) scale(0.01994 -0.01994)" stroke-width="150.4" stroke="#000" stroke-linejoin="round"/></g>
<g transform="translate(1183.34 235.30) scale(1.0000 1)"><text x="0.00 27.70 41.80" y="0" font-size="40.84" stroke-width="3.00">TiO</text></g>
<g transform="translate(1260.13 246.30) scale(1.1453 1)"><text x="0.00" y="0" font-size="26.21" stroke-width="2.40">2</text></g>
<g transform="translate(1278.60 235.30) scale(1.0000 1)"><text x="0.00 13.13 44.41 71.14 86.52" y="0" font-size="40.84" stroke-width="3.00">/Cu-2</text></g>
<g transform="translate(1183.34 306.90) scale(1.0000 1)"><text x="0.00 27.70 41.80" y="0" font-size="40.84" stroke-width="3.00">TiO</text></g>
<g transform="translate(1260.13 317.90) scale(1.1453 1)"><text x="0.00" y="0" font-size="26.21" stroke-width="2.40">2</text></g>
<g transform="translate(1278.60 306.90) scale(1.0000 1)"><text x="0.00 13.09 44.33 71.02 86.36" y="0" font-size="40.84" stroke-width="3.00">/Cu-3</text></g>
</svg></body></html>
